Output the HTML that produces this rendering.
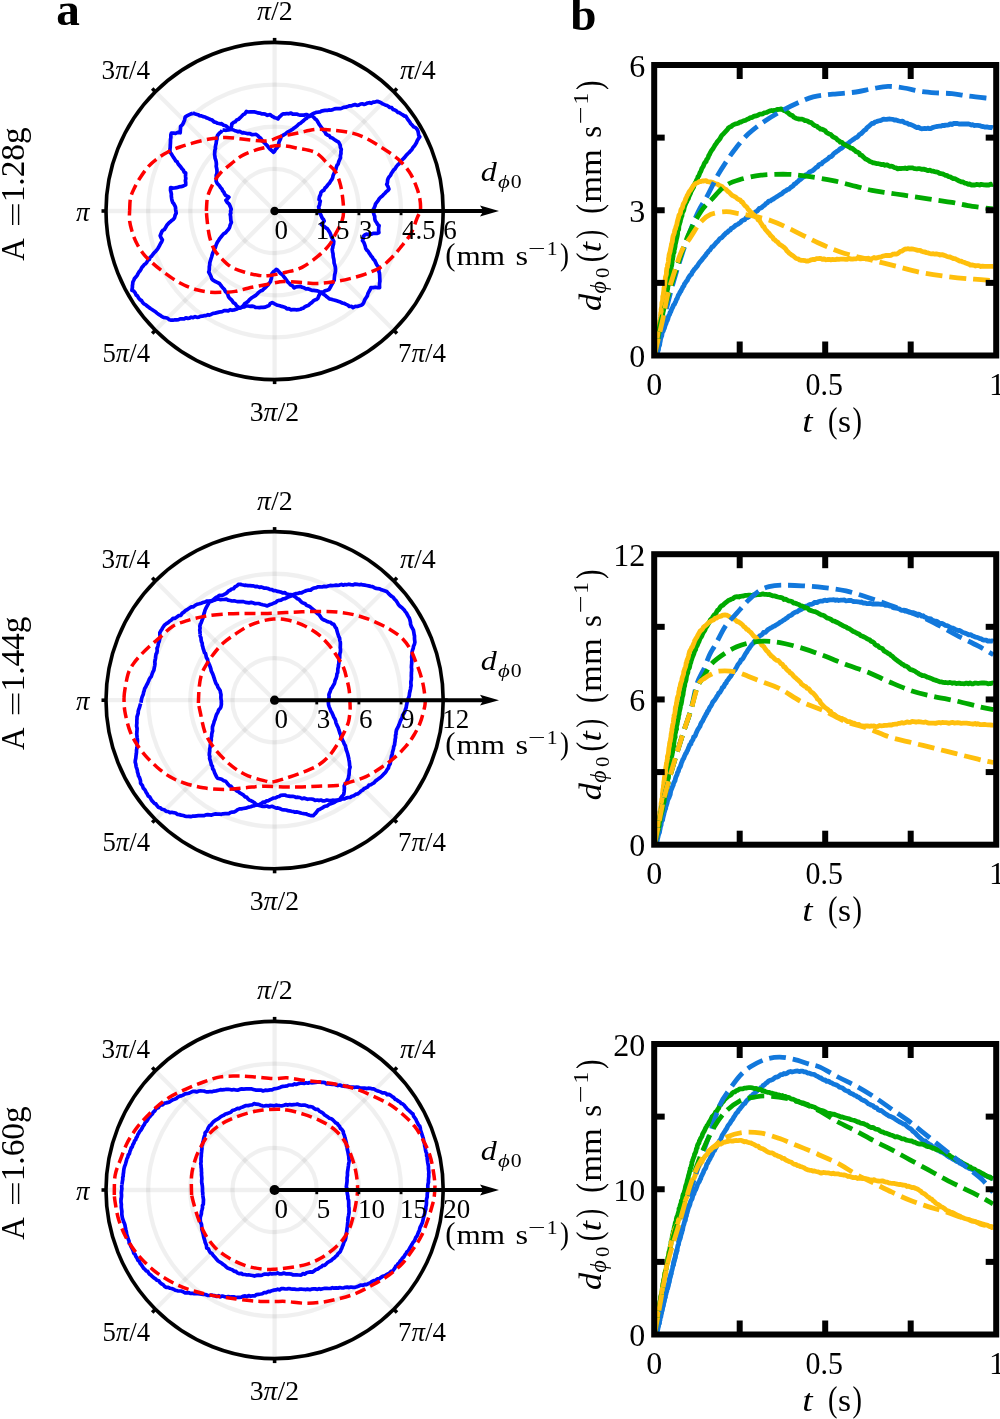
<!DOCTYPE html><html><head><meta charset="utf-8"><style>html,body{margin:0;padding:0;background:#fff}svg{display:block;will-change:transform}</style></head><body><svg width="1000" height="1419" viewBox="0 0 1000 1419">
<rect width="1000" height="1419" fill="#fff"/>
<text transform="translate(56.17,24.80) scale(1.0273,1.0000)" font-family="Liberation Serif" font-size="46" font-weight="bold">a</text>
<text transform="translate(570.20,29.80) scale(1.0250,1.0000)" font-family="Liberation Serif" font-size="46" font-weight="bold">b</text>
<circle cx="274.6" cy="211" r="42.15" fill="none" stroke="rgba(0,0,0,0.06)" stroke-width="4.3"/>
<circle cx="274.6" cy="211" r="84.30" fill="none" stroke="rgba(0,0,0,0.06)" stroke-width="4.3"/>
<circle cx="274.6" cy="211" r="126.45" fill="none" stroke="rgba(0,0,0,0.06)" stroke-width="4.3"/>
<circle cx="274.6" cy="211" r="168.60" fill="none" stroke="rgba(0,0,0,0.06)" stroke-width="4.3"/>
<line x1="274.6" y1="211" x2="443.20" y2="211.00" stroke="rgba(0,0,0,0.06)" stroke-width="4.3"/>
<line x1="274.6" y1="211" x2="393.82" y2="91.78" stroke="rgba(0,0,0,0.06)" stroke-width="4.3"/>
<line x1="274.6" y1="211" x2="274.60" y2="42.40" stroke="rgba(0,0,0,0.06)" stroke-width="4.3"/>
<line x1="274.6" y1="211" x2="155.38" y2="91.78" stroke="rgba(0,0,0,0.06)" stroke-width="4.3"/>
<line x1="274.6" y1="211" x2="106.00" y2="211.00" stroke="rgba(0,0,0,0.06)" stroke-width="4.3"/>
<line x1="274.6" y1="211" x2="155.38" y2="330.22" stroke="rgba(0,0,0,0.06)" stroke-width="4.3"/>
<line x1="274.6" y1="211" x2="274.60" y2="379.60" stroke="rgba(0,0,0,0.06)" stroke-width="4.3"/>
<line x1="274.6" y1="211" x2="393.82" y2="330.22" stroke="rgba(0,0,0,0.06)" stroke-width="4.3"/>
<path d="M192.8,112.9 L194.7,113.7 L196.2,114.2 L198.0,114.7 L199.5,115.6 L201.4,115.9 L203.1,116.7 L205.1,117.0 L206.9,118.1 L208.5,118.6 L210.5,119.5 L212.2,120.1 L214.0,121.9 L216.3,122.5 L217.6,123.3 L220.0,123.8 L221.6,123.7 L223.6,125.2 L225.6,125.7 L227.1,126.8 L228.9,128.4 L230.6,129.1 L232.5,129.6 L234.4,130.4 L236.0,130.9 L238.1,131.8 L239.7,131.4 L242.3,132.8 L243.8,132.7 L246.0,133.2 L247.9,133.7 L250.1,133.7 L252.3,134.7 L254.2,134.5 L255.9,134.4 L257.7,135.5 L259.0,137.0 L260.7,138.3 L262.0,140.3 L263.2,141.7 L264.7,143.1 L265.7,144.2 L267.5,145.9 L268.6,147.6 L270.3,149.4 L271.6,150.5 L273.4,152.3 L274.6,151.3 L275.5,149.4 L276.8,148.1 L278.3,146.1 L278.5,144.7 L279.0,142.2 L279.9,140.1 L280.7,138.5 L281.1,136.5 L282.9,135.4 L284.2,134.6 L285.8,133.7 L287.4,132.2 L289.4,131.3 L290.7,130.4 L292.5,129.4 L294.2,127.9 L295.6,126.9 L297.2,125.8 L298.9,124.0 L300.3,123.4 L301.7,122.2 L303.7,120.5 L305.0,119.2 L306.6,118.3 L307.8,116.7 L309.3,116.6 L310.9,115.1 L312.8,113.7 L314.5,113.1 L316.1,112.3 L317.9,112.2 L320.0,112.0 L321.4,111.1 L323.6,110.6 L325.1,110.4 L327.3,110.4 L328.9,109.9 L330.6,110.2 L332.8,109.6 L334.4,108.9 L336.2,108.6 L338.1,108.7 L340.1,108.7 L341.9,108.2 L343.6,107.4 L345.8,107.2 L347.6,106.6 L349.6,105.8 L351.4,105.9 L353.4,105.0 L355.0,104.6 L356.9,105.3 L358.6,105.1 L360.6,104.0 L362.3,103.8 L364.1,104.4 L365.8,103.9 L367.6,103.0 L369.9,102.7 L371.3,103.3 L373.2,102.1 L374.9,102.1 L376.7,101.4 L378.6,101.7 L380.6,102.5 L382.7,103.9 L385.1,104.9 L387.0,105.5 L388.6,106.5 L389.8,107.5 L391.8,107.7 L393.0,109.4 L394.9,110.1 L396.2,110.7 L397.9,112.5 L399.4,112.7 L401.3,114.0 L402.8,114.9 L404.6,116.1 L405.8,116.1 L407.4,118.9 L408.3,120.1 L409.7,121.9 L410.6,123.5 L412.3,125.3 L413.8,126.9 L415.9,127.9 L417.2,129.5 L418.0,131.3 L418.4,133.2 L418.7,135.3 L419.8,136.8 L418.4,138.7 L417.3,140.5 L416.4,142.7 L415.5,144.2 L414.5,145.9 L413.1,147.3 L411.8,149.7 L410.6,150.8 L409.0,152.7 L407.8,153.7 L406.4,155.1 L405.3,156.5 L403.9,158.2 L402.7,159.3 L401.5,160.6 L399.9,162.4 L398.9,164.0 L397.6,165.0 L396.0,167.2 L394.9,169.0 L393.6,170.0 L392.6,171.7 L391.4,173.3 L390.6,175.3 L389.3,176.7 L388.5,177.8 L387.6,180.0 L387.4,182.9 L386.7,184.4 L388.1,186.8 L388.9,189.1 L387.8,190.6 L386.2,191.8 L384.7,193.5 L383.4,194.7 L382.0,196.2 L380.9,197.0 L379.4,198.5 L378.3,200.3 L377.1,201.9 L375.6,203.8 L375.0,206.0 L374.2,207.9 L373.0,209.9 L373.4,212.6 L374.1,214.9 L374.7,216.3 L374.8,219.0 L375.3,220.8 L376.7,222.8 L377.8,224.7 L379.1,225.6 L378.7,227.7 L378.6,230.5 L378.9,232.7 L376.8,233.4 L375.3,233.4 L373.2,233.3 L371.5,234.2 L370.0,233.5 L368.2,234.7 L366.4,234.1 L364.7,234.9 L363.7,236.0 L363.3,238.4 L362.5,240.7 L363.7,242.2 L364.4,243.8 L365.3,246.5 L365.7,248.5 L367.0,250.3 L368.0,251.1 L369.0,252.8 L370.0,254.2 L371.3,256.3 L372.4,257.4 L373.2,259.0 L374.8,260.6 L375.7,262.7 L376.7,264.7 L377.6,266.0 L378.8,267.3 L378.9,269.0 L378.9,271.7 L379.4,272.8 L379.6,274.7 L379.7,277.1 L379.8,279.0 L379.9,281.4 L379.6,282.8 L379.5,284.9 L379.6,287.7 L377.5,287.6 L375.2,287.2 L373.2,287.6 L370.9,287.5 L370.2,289.5 L369.1,291.3 L368.0,293.3 L367.3,295.9 L366.1,297.7 L364.9,299.5 L363.9,302.2 L362.7,304.2 L361.2,305.3 L358.7,306.0 L357.2,306.5 L355.3,306.4 L353.0,307.6 L351.6,306.3 L349.3,306.5 L347.9,305.1 L346.1,304.4 L344.2,303.4 L342.3,303.0 L340.5,302.1 L338.7,301.5 L336.7,300.8 L334.9,300.2 L333.0,299.8 L331.3,299.3 L329.4,298.9 L327.6,297.4 L326.1,296.2 L324.6,294.9 L322.5,293.4 L321.5,292.2 L319.5,291.7 L317.5,290.9 L315.4,290.6 L313.7,290.4 L311.9,290.4 L309.9,289.5 L307.8,288.7 L306.1,289.0 L304.1,287.8 L302.1,287.3 L300.4,286.4 L298.2,286.6 L296.1,286.8 L294.1,287.9 L292.6,285.9 L290.5,284.9 L289.2,283.2 L287.7,282.1 L286.4,280.1 L285.0,278.1 L283.8,276.6 L283.0,275.5 L281.3,273.9 L280.2,273.2 L278.9,271.6 L277.6,270.1 L276.2,269.3 L274.9,270.9 L273.5,271.7 L271.9,273.6 L271.8,275.6 L271.5,278.1 L270.9,279.8 L270.5,281.6 L268.9,283.6 L267.8,285.2 L266.7,286.2 L265.2,287.8 L263.9,288.8 L262.3,290.5 L261.0,290.8 L258.9,292.2 L257.7,293.4 L256.1,295.1 L254.5,296.1 L252.6,297.3 L251.3,298.1 L249.3,299.9 L248.3,301.2 L246.2,302.8 L244.7,303.7 L243.4,305.6 L241.8,307.2 L239.7,307.9 L238.0,308.3 L236.2,309.3 L234.1,309.9 L232.1,310.3 L230.1,309.7 L228.2,310.9 L226.3,310.6 L224.1,310.7 L222.2,311.6 L220.5,311.8 L219.0,312.1 L217.0,312.6 L215.0,313.1 L213.2,313.3 L211.5,314.2 L209.4,315.1 L208.0,314.7 L205.9,315.6 L204.1,315.7 L202.4,316.2 L200.3,316.3 L198.8,317.1 L197.0,317.3 L195.1,316.7 L193.1,317.7 L191.2,317.2 L189.5,318.2 L187.9,318.4 L185.8,317.9 L184.1,319.0 L182.2,318.9 L180.1,318.9 L178.6,319.6 L176.6,319.9 L174.9,319.8 L172.9,320.2 L171.0,320.1 L169.5,319.8 L167.7,318.3 L165.8,317.8 L163.5,317.4 L162.1,316.7 L159.9,315.1 L158.6,314.4 L157.0,313.1 L155.5,311.8 L153.8,310.7 L152.0,309.5 L150.4,308.5 L148.8,307.2 L146.9,305.9 L145.5,304.6 L143.9,303.9 L142.5,302.3 L141.6,300.7 L140.3,299.9 L138.6,298.0 L137.4,295.9 L136.1,295.1 L135.0,292.6 L133.6,290.9 L131.9,290.3 L132.4,287.4 L132.4,285.7 L132.7,284.2 L132.8,282.3 L134.0,279.8 L134.6,278.3 L135.8,277.2 L137.0,275.7 L137.9,273.9 L138.9,272.1 L139.9,271.0 L141.0,269.2 L142.1,267.1 L143.1,266.2 L144.3,264.5 L145.5,263.8 L146.7,262.5 L147.7,260.5 L149.3,259.5 L150.1,257.4 L151.5,256.3 L152.8,254.5 L154.3,252.6 L155.7,251.3 L157.1,249.6 L158.2,248.0 L159.5,245.7 L160.4,243.7 L161.6,241.9 L162.4,239.8 L161.2,238.1 L160.2,235.7 L161.8,231.7 L163.0,230.1 L164.4,229.5 L165.6,227.5 L166.8,225.3 L168.2,223.7 L169.1,222.7 L170.7,221.5 L171.8,220.4 L173.3,219.5 L174.6,217.6 L175.2,215.0 L176.2,213.3 L175.9,211.3 L175.6,209.2 L175.5,207.2 L174.8,205.6 L173.6,203.3 L172.8,202.6 L172.0,200.3 L171.7,198.8 L171.3,195.9 L171.4,194.1 L170.9,191.9 L170.5,190.3 L170.6,187.5 L172.6,188.1 L174.5,188.0 L176.4,187.7 L178.9,186.9 L180.7,186.7 L183.0,186.1 L185.7,184.9 L185.7,182.5 L185.4,180.6 L185.8,178.5 L185.6,176.9 L185.5,175.1 L185.7,173.0 L184.2,172.2 L183.3,170.0 L181.9,168.7 L181.0,167.3 L179.5,165.5 L178.2,164.0 L177.0,161.7 L175.8,161.0 L174.4,158.6 L173.3,157.1 L172.7,156.1 L171.4,154.0 L170.4,152.5 L169.9,151.3 L170.0,148.6 L170.2,147.6 L170.3,144.8 L170.4,143.8 L170.5,141.4 L170.5,139.8 L170.9,137.2 L170.8,134.9 L171.3,133.2 L173.2,133.0 L175.6,133.4 L177.8,132.4 L180.2,132.8 L180.3,130.9 L180.5,128.2 L180.6,126.4 L182.5,124.7 L183.7,122.1 L184.5,120.2 L184.8,118.8 L185.3,116.8 L187.3,115.7 L189.4,114.7 L191.0,113.9 L192.9,113.4" fill="none" stroke="#0000ff" stroke-width="3.7" stroke-linejoin="round"/>
<path d="M222.5,129.8 L224.5,130.2 L226.2,130.3 L228.6,129.9 L230.6,129.4 L231.2,127.2 L231.6,126.2 L231.8,124.0 L233.9,122.2 L235.2,121.8 L236.7,119.9 L238.5,119.3 L240.2,117.7 L241.4,116.5 L243.1,114.7 L244.9,113.8 L246.4,111.4 L248.3,112.0 L250.4,111.8 L252.2,111.8 L254.3,111.9 L256.0,112.2 L257.7,112.9 L259.6,113.1 L261.5,113.8 L263.7,113.9 L265.2,114.1 L267.4,115.3 L270.2,114.6 L271.7,116.0 L273.4,116.9 L274.9,117.8 L276.9,118.3 L278.0,118.9 L279.3,117.0 L281.2,115.3 L282.9,113.9 L284.9,113.9 L286.9,113.5 L288.6,113.8 L291.0,113.1 L292.4,114.1 L294.7,114.2 L296.6,114.1 L298.5,114.8 L300.3,115.2 L302.2,115.1 L304.0,115.1 L306.4,114.5 L308.5,115.4 L310.9,115.5 L312.3,116.1 L313.7,117.3 L315.2,119.0 L316.7,120.1 L317.7,121.8 L319.0,124.1 L320.0,125.5 L321.0,126.9 L322.2,128.5 L323.4,130.3 L324.8,131.6 L325.9,133.9 L327.8,135.2 L329.1,135.5 L330.6,137.6 L332.3,138.1 L334.3,139.5 L336.4,140.9 L338.6,142.1 L339.6,144.0 L340.2,145.3 L340.4,147.5 L341.3,149.3 L340.9,151.7 L341.0,153.6 L340.4,155.7 L340.5,157.7 L339.7,159.5 L338.7,161.8 L338.2,163.9 L337.1,165.1 L336.2,167.6 L335.9,169.1 L334.8,171.4 L334.0,173.5 L333.1,175.5 L332.7,177.7 L331.9,179.3 L330.6,181.1 L329.5,183.1 L328.2,184.3 L327.4,185.5 L325.9,187.4 L325.1,187.9 L323.8,190.3 L322.3,191.0 L321.0,192.3 L320.5,194.7 L319.5,196.7 L319.0,199.5 L320.3,201.1 L319.7,203.6 L319.6,204.8 L318.6,206.8 L319.2,209.4 L319.6,210.9 L319.3,212.5 L320.7,214.5 L321.3,216.0 L322.3,218.3 L323.4,219.4 L324.2,221.0 L322.7,223.1 L321.4,224.4 L322.8,225.7 L324.2,226.4 L326.2,228.1 L327.5,228.9 L328.4,230.4 L329.8,232.5 L330.6,234.4 L331.4,236.7 L332.2,238.4 L333.8,241.3 L333.5,244.2 L333.0,245.7 L332.7,247.8 L332.2,249.3 L332.6,252.2 L333.0,253.5 L333.1,255.6 L333.3,257.4 L333.7,258.7 L334.0,260.8 L334.1,262.9 L334.6,264.6 L335.3,267.1 L335.5,269.2 L335.5,270.7 L335.1,273.2 L334.7,274.5 L334.5,276.3 L334.3,278.6 L334.2,280.1 L332.9,282.4 L332.2,283.8 L331.1,285.7 L330.2,287.6 L329.0,289.5 L327.0,290.2 L325.1,290.8 L323.4,291.9 L321.1,292.6 L320.1,293.5 L319.0,295.5 L317.9,298.3 L316.4,299.5 L314.8,300.0 L313.1,301.1 L311.7,302.7 L310.2,303.6 L308.6,305.2 L306.6,306.0 L305.0,306.7 L303.4,308.1 L301.8,308.5 L300.3,309.3 L298.5,309.7 L296.5,309.8 L294.4,309.5 L292.7,309.6 L290.8,309.8 L288.9,308.6 L286.9,308.8 L285.4,307.5 L283.1,306.8 L281.7,306.4 L279.9,305.8 L277.5,305.3 L275.6,304.4 L274.2,303.7 L272.2,302.5 L270.2,303.6 L269.0,305.6 L267.2,306.3 L265.3,307.1 L263.1,307.4 L261.2,307.3 L259.3,307.6 L257.5,307.5 L255.4,307.3 L254.0,306.5 L252.0,306.1 L249.7,306.3 L247.9,306.0 L245.8,306.0 L243.9,307.0 L241.9,307.2 L239.8,308.1 L238.2,306.9 L236.5,305.6 L235.1,303.7 L233.3,302.7 L232.1,300.6 L230.4,298.9 L229.4,298.1 L228.3,296.2 L227.7,294.3 L226.7,292.5 L225.5,291.7 L224.5,289.6 L223.0,288.0 L221.6,286.4 L220.7,285.1 L219.4,283.5 L217.2,282.4 L214.8,281.3 L212.7,279.9 L211.7,278.7 L211.1,276.7 L209.8,274.0 L208.7,272.0 L209.2,270.7 L209.3,268.4 L209.3,266.7 L209.7,264.8 L209.8,262.7 L210.4,260.8 L210.9,259.1 L211.5,257.2 L212.0,255.4 L212.9,252.7 L213.7,250.9 L214.2,248.9 L215.2,247.9 L215.9,245.6 L216.8,243.3 L217.7,241.6 L218.5,240.6 L220.1,238.1 L221.2,236.8 L222.5,235.2 L223.8,233.6 L225.2,233.0 L226.2,231.9 L227.7,230.1 L228.6,229.2 L229.6,227.3 L230.2,225.1 L231.4,222.3 L230.9,220.7 L230.7,218.6 L230.6,216.5 L230.2,214.4 L230.8,213.1 L230.6,211.1 L231.2,209.1 L230.3,206.6 L229.0,203.9 L227.3,202.5 L225.9,200.2 L227.1,199.4 L228.9,197.2 L225.6,195.3 L224.4,193.7 L223.9,192.2 L222.6,190.8 L221.9,188.9 L220.5,187.4 L219.6,186.0 L218.2,184.4 L217.1,183.2 L216.1,180.9 L216.3,179.0 L216.3,177.5 L216.2,175.2 L216.8,173.9 L217.0,172.3 L216.9,169.7 L216.6,168.1 L216.2,166.3 L216.4,164.2 L216.2,162.0 L215.8,160.0 L215.1,158.3 L214.9,156.2 L214.6,154.5 L214.7,152.8 L214.9,150.3 L215.5,148.4 L215.3,147.1 L215.8,144.7 L216.2,143.2 L216.4,141.0 L217.0,139.0 L217.0,136.9 L217.5,135.5 L219.2,133.3 L220.9,132.1 L222.2,130.4" fill="none" stroke="#0000ff" stroke-width="3.7" stroke-linejoin="round"/>
<path d="M129.6,211.0 C129.8,208.8 129.7,201.8 130.5,198.0 C131.3,194.2 132.8,191.3 134.4,188.0 C136.0,184.7 137.7,181.5 140.0,178.0 C142.3,174.5 145.2,170.2 148.0,167.0 C150.8,163.8 153.6,161.4 156.8,159.0 C160.0,156.6 163.1,154.5 167.0,152.5 C170.9,150.5 176.2,148.4 180.0,147.0 C183.8,145.6 185.3,145.1 190.0,143.8 C194.7,142.5 202.0,140.4 208.0,139.3 C214.0,138.2 220.0,137.5 226.0,137.5 C232.0,137.5 238.0,138.7 244.0,139.3 C250.0,139.9 257.5,140.9 262.0,141.1 C266.5,141.2 268.0,140.9 271.0,140.2 C274.0,139.4 275.5,137.8 280.0,136.6 C284.5,135.4 292.0,134.2 298.0,133.0 C304.0,131.8 310.0,129.8 316.0,129.4 C322.0,129.0 328.0,129.7 334.0,130.3 C340.0,130.9 346.6,131.7 352.0,133.0 C357.4,134.3 361.4,135.9 366.4,138.4 C371.4,140.9 376.7,144.4 382.0,147.8 C387.3,151.2 393.5,155.0 398.0,159.0 C402.5,163.0 406.3,167.5 409.2,171.8 C412.1,176.1 413.9,180.3 415.6,184.6 C417.3,188.9 418.8,193.1 419.6,197.4 C420.4,201.7 420.8,206.8 420.4,210.2 C420.0,213.6 418.8,213.9 417.2,217.8 C415.6,221.7 413.5,229.0 410.8,233.8 C408.1,238.6 404.4,242.6 401.2,246.6 C398.0,250.6 395.1,254.3 391.6,257.8 C388.1,261.3 384.7,264.7 380.4,267.4 C376.1,270.1 371.1,271.9 366.0,273.8 C360.9,275.7 355.3,277.3 350.0,278.6 C344.7,279.9 339.3,281.0 334.0,281.8 C328.7,282.6 323.3,283.3 318.0,283.4 C312.7,283.5 307.3,282.8 302.0,282.5 C296.7,282.2 289.7,281.6 286.0,281.5 C282.3,281.4 283.7,281.2 280.0,281.8 C276.3,282.4 269.3,283.9 264.0,285.0 C258.7,286.1 252.8,287.1 248.0,288.2 C243.2,289.3 239.2,290.7 235.2,291.4 C231.2,292.1 228.3,292.1 224.0,292.2 C219.7,292.3 214.1,292.6 209.6,292.2 C205.1,291.8 201.1,291.0 196.8,289.8 C192.5,288.6 188.0,286.9 184.0,285.0 C180.0,283.1 176.5,281.0 172.8,278.6 C169.1,276.2 165.1,273.3 161.6,270.6 C158.1,267.9 154.9,265.3 152.0,262.6 C149.1,259.9 146.4,257.5 144.0,254.6 C141.6,251.7 139.5,248.5 137.6,245.0 C135.7,241.5 134.1,237.8 132.8,233.8 C131.5,229.8 130.1,224.8 129.6,221.0 C129.1,217.2 129.6,212.7 129.6,211.0" fill="none" stroke="#ff0000" stroke-width="3.5" stroke-dasharray="11 5.4"/>
<path d="M206.4,211.0 C206.5,209.0 206.7,202.3 207.2,199.0 C207.7,195.7 208.4,193.9 209.6,191.0 C210.8,188.1 212.7,184.3 214.4,181.4 C216.1,178.5 217.2,176.5 220.0,173.5 C222.8,170.5 227.4,166.8 231.4,163.6 C235.4,160.4 238.9,157.1 244.0,154.6 C249.1,152.1 256.0,149.8 262.0,148.3 C268.0,146.8 274.0,145.6 280.0,145.6 C286.0,145.6 292.0,147.1 298.0,148.3 C304.0,149.5 311.1,150.2 316.0,152.8 C320.9,155.4 324.3,160.6 327.6,163.8 C330.9,167.0 333.5,168.3 335.6,171.8 C337.7,175.3 339.2,180.1 340.4,184.6 C341.6,189.1 342.3,194.5 342.8,199.0 C343.3,203.5 343.7,208.1 343.6,211.8 C343.5,215.5 343.3,217.3 342.0,221.0 C340.7,224.7 337.7,229.8 335.6,233.8 C333.5,237.8 332.1,241.3 329.2,245.0 C326.3,248.7 322.5,252.5 318.0,256.2 C313.5,259.9 307.3,264.7 302.0,267.4 C296.7,270.1 291.3,270.9 286.0,272.2 C280.7,273.5 274.5,274.9 270.0,275.4 C265.5,275.9 263.4,275.9 259.2,275.4 C255.0,274.9 249.3,273.5 244.8,272.2 C240.3,270.9 235.7,269.5 232.0,267.4 C228.3,265.3 225.3,262.3 222.4,259.4 C219.5,256.5 216.5,253.5 214.4,249.8 C212.3,246.1 210.8,241.8 209.6,237.0 C208.4,232.2 207.7,225.3 207.2,221.0 C206.7,216.7 206.5,212.7 206.4,211.0" fill="none" stroke="#ff0000" stroke-width="3.5" stroke-dasharray="11 5.4"/>
<circle cx="274.6" cy="211" r="168.6" fill="none" stroke="#000" stroke-width="3.6"/>
<line x1="443.20" y1="211.00" x2="447.70" y2="211.00" stroke="#000" stroke-width="3.6"/>
<line x1="393.82" y1="91.78" x2="397.00" y2="88.60" stroke="#000" stroke-width="3.6"/>
<line x1="274.60" y1="42.40" x2="274.60" y2="37.90" stroke="#000" stroke-width="3.6"/>
<line x1="155.38" y1="91.78" x2="152.20" y2="88.60" stroke="#000" stroke-width="3.6"/>
<line x1="106.00" y1="211.00" x2="101.50" y2="211.00" stroke="#000" stroke-width="3.6"/>
<line x1="155.38" y1="330.22" x2="152.20" y2="333.40" stroke="#000" stroke-width="3.6"/>
<line x1="274.60" y1="379.60" x2="274.60" y2="384.10" stroke="#000" stroke-width="3.6"/>
<line x1="393.82" y1="330.22" x2="397.00" y2="333.40" stroke="#000" stroke-width="3.6"/>
<line x1="274.6" y1="211" x2="485" y2="211" stroke="#000" stroke-width="4"/>
<path d="M499,211 L480,205.6 L483.5,211 L480,216.4 Z" fill="#000"/>
<line x1="316.75" y1="211" x2="316.75" y2="215.2" stroke="#000" stroke-width="2.8"/>
<line x1="358.90" y1="211" x2="358.90" y2="215.2" stroke="#000" stroke-width="2.8"/>
<line x1="401.05" y1="211" x2="401.05" y2="215.2" stroke="#000" stroke-width="2.8"/>
<circle cx="274.6" cy="211" r="4.3" fill="#000"/>
<text transform="translate(274.60,239.00)" font-family="Liberation Serif" font-size="27">0</text>
<text transform="translate(315.75,239.00)" font-family="Liberation Serif" font-size="27">1.5</text>
<text transform="translate(358.90,239.00)" font-family="Liberation Serif" font-size="27">3</text>
<text transform="translate(402.05,239.00)" font-family="Liberation Serif" font-size="27">4.5</text>
<text transform="translate(443.20,239.00)" font-family="Liberation Serif" font-size="27">6</text>
<text transform="translate(257.00,20.30) scale(1.0303,1.0000)" font-family="Liberation Serif" font-size="27"><tspan font-style="italic">π</tspan>/2</text>
<text transform="translate(249.77,420.80) scale(1.0261,1.0000)" font-family="Liberation Serif" font-size="27">3<tspan font-style="italic">π</tspan>/2</text>
<text transform="translate(101.59,78.80) scale(1.0085,1.0000)" font-family="Liberation Serif" font-size="27">3<tspan font-style="italic">π</tspan>/4</text>
<text transform="translate(400.00,78.80) scale(1.0353,1.0000)" font-family="Liberation Serif" font-size="27"><tspan font-style="italic">π</tspan>/4</text>
<text transform="translate(102.51,362.00) scale(0.9894,1.0000)" font-family="Liberation Serif" font-size="27">5<tspan font-style="italic">π</tspan>/4</text>
<text transform="translate(398.10,361.80) scale(0.9979,1.0000)" font-family="Liberation Serif" font-size="27">7<tspan font-style="italic">π</tspan>/4</text>
<text transform="translate(76.00,220.60)" font-family="Liberation Serif" font-size="27" font-style="italic">π</text>
<text transform="translate(480.82,181.00) scale(1.1846,1.0000)" font-family="Liberation Serif" font-size="27" font-style="italic">d</text>
<text transform="translate(498.00,187.80) scale(1.2000,1.0000)" font-family="Liberation Serif" font-size="19" font-style="italic">ϕ</text>
<text transform="translate(510.70,187.80) scale(1.1444,1.0000)" font-family="Liberation Serif" font-size="19">0</text>
<text transform="translate(445.16,265.10) scale(1.1375,1.2000)" font-family="Liberation Serif" font-size="27">(</text>
<text transform="translate(456.50,265.10) scale(1.1548,1.0000)" font-family="Liberation Serif" font-size="27">mm</text>
<text transform="translate(515.50,265.10) scale(1.2000,1.0000)" font-family="Liberation Serif" font-size="27">s</text>
<text transform="translate(527.97,254.60) scale(1.6333,1.0000)" font-family="Liberation Serif" font-size="19">−</text>
<text transform="translate(546.71,254.60) scale(1.1429,1.0000)" font-family="Liberation Serif" font-size="19">1</text>
<text transform="translate(560.00,265.10) scale(1.0000,1.2000)" font-family="Liberation Serif" font-size="27">)</text>
<text transform="translate(23.70,260.70) rotate(-90) scale(0.9458,1.0000)" font-family="Liberation Serif" font-size="33">A</text>
<text transform="translate(25.10,227.26) rotate(-90) scale(1.3563,0.8200)" font-family="Liberation Serif" font-size="33">=</text>
<text transform="translate(23.50,202.33) rotate(-90) scale(1.0099,1.0000)" font-family="Liberation Serif" font-size="33">1.28g</text>
<path d="M654.5,355.0 L655.9,355.1 L657.5,353.0 L657.7,351.6 L658.1,350.6 L658.5,349.6 L658.6,347.8 L659.1,345.9 L659.7,344.9 L659.8,343.1 L660.3,340.9 L660.6,339.0 L660.9,338.0 L661.8,335.7 L661.9,334.5 L662.5,332.0 L663.3,331.0 L663.6,329.8 L664.4,328.2 L664.9,326.2 L665.2,325.3 L666.0,323.6 L666.4,321.9 L667.1,320.7 L667.8,319.1 L668.1,317.8 L668.8,315.6 L669.7,314.4 L670.0,312.6 L670.7,311.8 L671.6,309.4 L672.2,308.2 L672.8,307.1 L673.4,305.2 L674.4,304.3 L675.0,302.8 L675.8,301.3 L676.4,299.4 L677.1,298.6 L677.7,297.0 L678.3,295.3 L679.2,294.1 L680.0,292.2 L681.0,291.1 L681.3,290.0 L682.2,288.7 L682.8,287.1 L684.0,285.7 L684.4,284.2 L685.5,282.6 L686.2,281.5 L687.3,280.4 L688.1,278.4 L689.3,276.6 L690.1,275.2 L691.4,274.4 L692.1,272.5 L693.4,270.8 L694.1,269.6 L695.5,268.3 L696.4,266.9 L697.3,266.1 L698.3,264.3 L699.1,263.2 L699.9,262.1 L701.0,260.9 L701.9,259.9 L702.9,258.4 L704.3,256.9 L705.2,255.6 L706.0,254.9 L706.7,253.3 L707.9,252.4 L708.6,251.0 L709.8,250.3 L710.9,248.5 L711.9,246.9 L713.1,246.5 L714.1,245.3 L715.4,243.8 L716.4,242.4 L717.6,241.6 L718.9,239.9 L720.0,238.5 L721.3,237.8 L722.5,236.8 L723.7,235.4 L724.8,234.4 L726.0,233.0 L727.4,232.3 L728.8,230.7 L730.2,230.1 L731.3,228.4 L733.0,227.6 L734.2,226.7 L735.4,225.5 L736.6,224.9 L738.1,224.2 L739.3,223.2 L740.5,222.5 L741.8,220.8 L743.5,220.0 L744.8,219.6 L746.0,217.9 L747.3,217.7 L749.1,216.5 L750.2,215.8 L751.6,215.3 L753.2,214.1 L754.3,213.4 L755.5,211.8 L756.9,211.1 L758.0,210.1 L759.4,208.3 L760.9,208.0 L762.3,207.0 L763.2,206.0 L764.9,204.9 L765.8,203.7 L767.3,202.9 L768.8,201.1 L770.4,200.9 L771.8,199.7 L773.0,199.2 L774.4,198.2 L775.9,197.3 L777.6,196.2 L779.1,195.3 L780.6,194.4 L782.0,193.6 L783.2,192.3 L784.8,191.2 L786.1,190.6 L787.5,189.5 L789.0,189.1 L790.7,187.4 L792.0,186.6 L793.3,185.7 L794.3,184.2 L795.9,183.3 L797.0,182.1 L798.3,181.3 L799.3,179.9 L800.7,179.4 L802.3,177.8 L803.4,177.1 L804.8,176.4 L805.8,174.9 L807.5,174.4 L808.4,173.3 L809.7,172.0 L811.0,171.4 L812.4,170.8 L813.5,170.0 L814.8,168.7 L816.1,167.5 L817.7,166.8 L818.7,165.0 L820.3,164.2 L821.6,163.9 L822.7,162.3 L824.1,161.4 L825.4,160.5 L826.6,159.7 L828.3,158.6 L829.5,157.0 L831.1,156.6 L832.5,155.4 L833.4,154.0 L835.0,152.7 L836.0,152.1 L837.5,150.9 L838.3,150.6 L839.9,149.0 L841.9,148.0 L843.3,146.7 L844.7,145.6 L846.0,145.3 L847.0,143.8 L848.5,143.4 L849.8,141.9 L851.6,140.6 L852.9,139.6 L854.1,139.0 L855.5,137.8 L856.8,137.4 L858.0,136.4 L859.3,134.7 L860.6,134.0 L861.9,133.0 L863.1,131.6 L864.3,130.3 L865.9,129.5 L866.9,127.8 L868.3,126.7 L869.4,125.9 L870.8,124.5 L871.9,123.5 L873.7,123.3 L875.0,122.0 L876.9,121.5 L878.1,121.0 L879.9,120.7 L881.4,120.2 L883.5,119.1 L884.9,119.4 L886.6,119.4 L888.1,119.1 L889.8,119.0 L891.1,119.2 L892.9,119.3 L894.5,120.1 L896.0,119.9 L897.6,120.6 L899.1,121.0 L901.0,121.4 L902.6,121.2 L904.2,122.5 L905.8,123.0 L907.0,123.2 L909.0,124.3 L910.3,124.3 L912.0,125.1 L913.7,125.9 L915.4,126.8 L916.9,127.6 L918.5,127.2 L919.8,128.2 L921.5,128.8 L922.8,128.6 L924.8,128.5 L926.2,128.7 L927.7,128.2 L929.3,128.6 L931.0,128.5 L932.5,127.6 L934.5,127.0 L936.0,126.7 L937.7,126.3 L939.4,126.2 L941.0,126.2 L942.5,125.4 L944.0,125.6 L945.5,125.1 L947.1,125.1 L948.9,124.8 L950.3,123.8 L952.1,124.5 L953.6,123.5 L955.4,123.4 L957.4,123.5 L959.5,124.1 L961.3,123.8 L963.0,124.0 L964.7,124.0 L966.2,124.0 L968.2,123.9 L969.6,124.3 L971.4,125.0 L972.8,124.6 L974.1,125.5 L975.7,125.4 L977.7,125.4 L979.4,125.6 L981.3,126.3 L983.0,126.5 L985.2,127.1 L986.8,126.9 L988.6,127.3 L990.6,127.5 L992.0,127.5 L993.0,128.0" fill="none" stroke="#1278dc" stroke-width="4.8" stroke-linejoin="round"/>
<path d="M654.5,355.0 L654.5,354.0 L654.7,353.4 L655.2,352.0 L655.4,351.0 L655.7,350.1 L655.8,349.0 L656.2,347.1 L656.5,345.9 L656.4,345.1 L657.1,343.2 L657.0,341.1 L657.6,340.1 L658.0,338.8 L658.2,336.9 L658.4,334.8 L658.9,333.0 L659.3,331.8 L659.6,330.0 L660.1,327.5 L660.1,325.7 L660.7,324.2 L660.9,322.4 L661.3,320.2 L661.6,318.7 L662.0,316.3 L662.7,314.6 L663.0,312.4 L663.3,311.2 L663.7,309.2 L663.8,307.4 L664.5,305.4 L664.6,304.0 L664.9,302.3 L665.3,300.1 L665.6,298.4 L665.7,297.2 L666.1,296.0 L666.3,294.0 L666.9,292.5 L667.2,290.8 L667.7,288.7 L667.8,286.8 L668.2,285.6 L668.6,283.4 L668.7,281.8 L668.9,280.8 L669.1,278.3 L669.5,276.7 L670.0,275.5 L670.0,274.0 L670.3,271.5 L670.5,270.4 L671.1,268.9 L671.1,266.9 L671.7,265.6 L671.9,263.5 L672.2,261.9 L672.1,260.7 L672.6,259.3 L672.8,257.3 L673.1,256.1 L673.1,254.4 L673.5,253.4 L674.1,252.2 L674.1,250.1 L674.5,249.2 L674.9,247.2 L675.1,246.2 L675.2,244.5 L675.6,243.1 L675.9,241.9 L676.4,239.2 L676.8,237.9 L677.2,236.1 L677.6,233.7 L677.6,232.0 L678.1,230.2 L678.7,229.3 L678.8,227.1 L679.0,225.5 L679.5,224.1 L680.0,222.3 L680.3,221.6 L680.5,220.0 L680.9,218.9 L681.4,217.0 L682.0,215.7 L682.1,214.1 L682.4,212.8 L682.8,212.1 L683.8,210.2 L684.2,207.9 L684.8,205.9 L685.4,204.4 L686.2,202.6 L686.9,201.3 L687.4,199.9 L688.4,198.5 L688.9,196.6 L689.6,195.2 L690.3,193.8 L690.6,193.0 L691.2,191.2 L692.0,190.1 L692.6,188.8 L693.6,187.2 L694.1,185.1 L694.8,183.7 L695.6,182.3 L696.2,181.5 L696.5,180.1 L697.4,178.8 L698.0,176.6 L698.7,176.1 L699.5,174.0 L700.1,172.4 L700.8,171.5 L701.4,169.8 L701.9,168.3 L702.8,167.0 L703.5,165.8 L704.2,163.8 L705.1,162.3 L706.1,161.7 L706.6,159.6 L707.6,158.6 L708.2,157.3 L708.7,155.6 L709.5,154.5 L710.2,152.9 L711.5,150.6 L712.4,149.5 L713.4,147.9 L714.4,146.2 L714.9,145.3 L716.2,143.6 L717.0,142.2 L717.9,141.2 L719.1,139.7 L720.2,138.4 L720.8,137.0 L721.9,135.2 L723.3,134.0 L724.4,132.7 L725.6,131.6 L726.5,130.5 L727.6,129.4 L728.4,128.0 L729.9,127.0 L731.3,126.5 L732.8,125.1 L734.3,124.4 L735.5,123.8 L737.1,123.6 L738.2,123.2 L739.7,122.2 L741.2,122.0 L743.0,121.0 L744.6,120.5 L745.6,120.3 L747.3,119.3 L748.9,118.7 L750.3,117.6 L752.0,117.5 L753.6,116.4 L755.0,116.0 L756.6,115.8 L757.9,115.3 L759.6,114.1 L761.2,114.1 L762.6,113.8 L764.3,112.9 L766.5,112.5 L768.2,111.7 L770.0,110.8 L771.6,110.5 L773.1,110.9 L774.6,110.4 L776.0,110.1 L777.0,109.5 L779.6,109.4 L781.4,108.9 L782.6,109.7 L784.3,110.8 L785.6,110.6 L786.9,112.1 L788.2,112.8 L789.4,114.2 L791.0,115.1 L792.4,115.5 L793.8,117.2 L795.3,118.0 L796.7,118.5 L798.4,119.0 L800.0,119.1 L801.8,119.2 L803.2,119.5 L805.0,120.6 L806.3,120.6 L807.9,121.3 L809.4,122.4 L810.9,122.4 L812.2,123.5 L813.5,124.7 L815.2,125.8 L817.0,126.3 L817.9,127.4 L819.5,128.2 L820.5,129.1 L822.0,129.2 L823.8,130.0 L825.3,130.9 L826.4,132.5 L828.1,133.4 L829.2,134.0 L830.8,134.5 L832.1,136.0 L833.5,137.1 L835.1,137.8 L836.1,138.4 L837.7,140.1 L839.4,141.0 L840.3,142.2 L842.0,142.4 L843.5,144.1 L844.7,144.6 L846.4,145.5 L847.7,146.3 L849.5,147.2 L850.6,148.1 L852.3,148.4 L853.7,149.6 L854.7,150.2 L855.8,151.5 L857.8,152.3 L859.4,153.3 L860.1,155.0 L861.7,155.3 L862.6,156.2 L864.0,157.6 L865.5,159.0 L867.0,159.6 L868.2,160.3 L869.9,161.5 L872.1,162.2 L873.2,162.9 L874.6,162.9 L876.4,163.6 L877.9,163.7 L879.8,164.0 L881.3,164.6 L883.4,164.4 L885.0,165.3 L886.7,164.8 L887.9,165.3 L890.0,166.3 L891.6,166.1 L893.2,166.8 L894.4,167.7 L896.1,167.9 L897.7,168.8 L899.4,168.4 L900.7,168.7 L902.2,168.4 L903.9,168.3 L905.1,168.0 L907.0,168.6 L908.4,167.8 L910.1,167.9 L912.1,167.8 L913.6,168.3 L915.3,168.7 L916.8,168.9 L918.5,168.6 L919.9,168.7 L922.0,169.4 L923.6,169.1 L925.2,169.6 L926.5,170.1 L928.2,170.6 L930.1,170.2 L931.5,171.1 L933.0,171.2 L934.7,171.6 L935.8,171.8 L937.5,172.1 L939.0,173.1 L940.8,173.7 L942.3,173.8 L944.0,174.5 L945.5,175.3 L946.9,175.3 L948.5,176.6 L950.2,176.8 L951.9,177.9 L953.2,178.6 L954.8,178.6 L956.5,179.5 L958.2,180.6 L959.8,181.2 L961.2,181.9 L963.1,182.0 L965.0,183.2 L966.4,183.3 L968.0,184.3 L969.7,183.9 L971.2,185.0 L972.8,184.8 L974.9,185.0 L976.5,184.4 L978.0,184.6 L979.6,185.0 L981.2,184.3 L982.5,184.7 L984.0,184.9 L986.3,185.0 L988.8,185.0 L990.6,184.2 L991.9,184.5 L993.0,184.0" fill="none" stroke="#00aa00" stroke-width="4.8" stroke-linejoin="round"/>
<path d="M654.5,355.0 L654.5,354.5 L655.0,352.9 L654.7,352.0 L655.0,350.4 L655.3,349.2 L655.8,348.0 L656.0,346.5 L656.1,344.4 L656.4,342.9 L656.7,341.2 L657.2,339.1 L657.3,337.1 L657.6,335.7 L658.0,333.6 L658.0,331.7 L658.3,329.6 L659.0,328.3 L659.2,326.7 L659.2,324.3 L659.5,322.7 L659.7,320.8 L660.2,320.0 L660.3,317.7 L660.5,316.2 L660.6,314.7 L660.8,312.7 L661.3,311.4 L661.1,309.4 L661.5,307.6 L661.8,306.4 L661.8,304.5 L661.9,302.8 L662.3,301.6 L662.6,300.2 L662.7,298.3 L662.7,296.5 L663.2,295.2 L663.4,293.6 L663.7,291.2 L663.9,290.2 L664.0,288.0 L664.4,286.7 L664.6,284.9 L664.9,283.3 L664.9,281.8 L665.2,279.7 L665.3,278.9 L665.4,277.3 L666.1,275.2 L666.4,273.9 L666.4,272.1 L666.6,270.0 L666.8,268.3 L667.5,266.9 L667.5,264.7 L668.0,263.9 L668.4,261.3 L668.5,260.0 L668.5,258.6 L668.9,257.4 L669.0,255.4 L669.3,254.2 L669.8,252.5 L670.2,251.2 L670.3,250.2 L670.7,248.3 L671.2,246.2 L671.5,243.8 L671.9,242.8 L672.4,241.2 L672.5,239.4 L672.9,237.0 L673.2,235.6 L673.7,234.7 L674.2,233.3 L674.6,231.1 L674.9,229.7 L675.5,229.0 L675.8,227.2 L676.2,226.0 L676.8,224.7 L677.1,222.6 L677.6,220.5 L677.9,219.5 L678.6,217.2 L678.9,215.5 L679.6,214.5 L680.4,213.2 L680.6,211.5 L681.0,209.6 L681.8,208.5 L682.5,207.3 L682.9,205.3 L683.5,203.6 L684.2,202.6 L685.1,200.9 L685.6,198.9 L686.6,197.0 L687.3,195.2 L688.1,194.2 L688.9,192.2 L689.6,191.1 L690.3,190.4 L691.2,188.9 L691.9,188.0 L693.2,185.8 L694.9,184.1 L696.1,183.3 L697.8,182.8 L699.3,181.5 L700.7,181.6 L702.3,180.8 L704.0,181.0 L705.9,180.6 L707.5,181.6 L709.4,182.0 L711.2,182.0 L712.5,182.3 L714.3,183.4 L715.8,183.9 L717.4,184.1 L719.0,185.2 L721.2,186.2 L722.3,186.7 L723.4,188.0 L724.6,188.8 L726.3,189.7 L727.6,191.3 L728.7,191.9 L730.2,193.4 L731.3,194.6 L732.5,195.6 L734.1,196.3 L735.8,197.2 L737.2,198.6 L738.6,199.4 L740.1,200.0 L741.6,202.0 L742.5,202.2 L743.9,204.3 L744.9,205.7 L745.8,206.3 L747.1,207.5 L748.1,209.5 L749.3,210.3 L750.4,211.8 L751.9,212.9 L752.9,214.1 L754.3,215.2 L755.7,217.1 L757.0,217.5 L758.0,219.8 L759.4,220.5 L760.1,221.6 L761.2,223.6 L762.1,224.7 L762.8,226.2 L764.1,226.8 L764.9,228.8 L765.9,230.1 L767.1,231.3 L768.3,232.9 L769.1,233.4 L770.4,235.3 L771.3,236.2 L772.7,237.3 L773.6,239.3 L774.7,239.7 L776.0,241.1 L777.6,242.0 L778.7,243.5 L780.0,244.7 L781.5,245.5 L783.0,246.6 L784.2,247.5 L785.7,248.9 L786.9,250.9 L788.0,251.8 L789.2,253.3 L790.8,254.3 L791.8,255.1 L793.3,256.0 L794.7,257.2 L796.2,258.5 L798.0,258.8 L799.6,259.9 L801.4,260.3 L803.2,260.3 L804.9,260.6 L806.6,261.2 L808.2,261.0 L809.6,260.5 L811.3,259.8 L813.2,259.4 L814.6,259.6 L816.5,258.7 L818.1,258.6 L819.8,258.5 L821.4,258.7 L822.5,259.4 L824.1,258.9 L825.6,259.8 L827.4,259.5 L829.2,259.3 L831.0,259.9 L832.2,259.4 L834.2,259.6 L835.4,259.7 L837.1,259.1 L839.0,259.3 L840.4,259.2 L842.3,259.1 L843.8,259.1 L845.9,259.4 L847.2,259.4 L849.2,258.5 L850.6,259.0 L852.5,259.1 L853.9,258.8 L855.7,258.9 L857.3,258.3 L858.8,258.4 L860.5,258.9 L862.3,258.7 L863.9,258.4 L865.3,258.8 L867.3,258.3 L868.6,258.2 L869.8,258.9 L872.1,258.5 L874.0,257.5 L875.7,258.2 L877.6,257.6 L879.5,257.2 L880.8,257.1 L882.7,256.1 L883.9,255.9 L885.6,255.5 L887.6,255.4 L889.3,255.5 L891.2,255.3 L892.8,254.2 L894.1,254.0 L896.0,254.1 L897.6,253.6 L899.1,252.5 L900.4,251.4 L901.7,251.2 L903.5,250.0 L904.7,249.2 L906.4,249.0 L908.3,248.7 L909.8,249.1 L911.5,248.9 L913.2,249.2 L914.9,249.5 L917.0,250.1 L918.0,250.4 L920.0,250.3 L921.5,251.3 L923.1,251.8 L924.4,251.9 L926.5,252.6 L928.2,252.9 L929.7,253.5 L931.2,253.8 L933.3,253.7 L934.9,254.2 L936.3,253.9 L938.5,254.3 L940.1,255.0 L942.0,254.6 L943.6,255.1 L945.4,255.7 L946.9,256.5 L948.5,256.8 L950.0,257.0 L951.7,257.8 L953.3,258.5 L954.9,258.6 L956.4,259.4 L958.2,260.2 L959.4,261.0 L961.2,261.1 L962.7,262.0 L964.4,262.4 L965.6,263.0 L967.4,263.6 L969.0,264.1 L970.3,265.1 L972.0,265.0 L974.1,265.3 L975.3,266.0 L977.1,265.7 L978.8,265.6 L980.9,266.5 L982.4,266.1 L984.4,266.4 L986.4,266.3 L988.4,266.3 L989.9,266.4 L991.2,266.4 L992.8,266.3 L993.5,266.2" fill="none" stroke="#ffbf0c" stroke-width="4.8" stroke-linejoin="round"/>
<path d="M654.5,355.0 C656.3,348.0 661.7,326.5 665.2,313.2 C668.7,299.9 671.6,287.9 675.4,275.2 C679.2,262.5 684.2,247.7 688.0,237.1 C691.8,226.5 695.0,218.5 698.2,211.7 C701.4,204.9 703.7,202.6 707.0,196.5 C710.3,190.4 714.5,181.1 717.8,175.2 C721.1,169.2 723.8,165.3 726.8,160.8 C729.8,156.3 732.2,152.7 735.8,148.2 C739.4,143.7 743.6,138.3 748.4,133.8 C753.2,129.3 758.9,125.1 764.6,121.2 C770.3,117.3 777.2,113.4 782.6,110.4 C788.0,107.4 791.9,105.4 797.0,103.2 C802.1,100.9 807.2,98.4 813.2,96.9 C819.2,95.4 825.9,95.0 833.0,94.2 C840.1,93.4 849.5,92.9 856.0,92.0 C862.5,91.1 866.7,89.7 872.0,88.8 C877.3,87.9 882.7,86.5 888.0,86.4 C893.3,86.3 898.7,87.2 904.0,88.0 C909.3,88.8 914.7,90.4 920.0,91.2 C925.3,92.0 930.7,92.4 936.0,92.8 C941.3,93.2 946.7,93.1 952.0,93.6 C957.3,94.1 961.2,95.1 968.0,96.0 C974.8,96.9 988.8,98.3 993.0,98.8" fill="none" stroke="#1278dc" stroke-width="4.8" stroke-linejoin="round" stroke-dasharray="16.8 7"/>
<path d="M654.5,355.0 C655.4,350.0 657.9,334.2 660.0,325.0 C662.1,315.8 664.3,309.2 667.0,300.0 C669.7,290.8 672.5,280.7 676.0,270.0 C679.5,259.3 683.9,245.5 688.0,235.8 C692.1,226.1 696.7,217.9 700.8,211.7 C704.9,205.5 708.4,202.9 712.4,198.6 C716.4,194.3 720.5,189.2 725.0,186.0 C729.5,182.8 733.4,181.5 739.4,179.7 C745.4,177.9 752.9,176.1 761.0,175.2 C769.1,174.3 780.5,174.2 788.0,174.3 C795.5,174.5 798.5,175.1 806.0,176.1 C813.5,177.1 824.7,178.9 833.0,180.6 C841.3,182.3 849.5,184.8 856.0,186.4 C862.5,188.0 866.7,189.3 872.0,190.4 C877.3,191.5 882.7,192.0 888.0,192.8 C893.3,193.6 898.7,194.4 904.0,195.2 C909.3,196.0 914.7,196.8 920.0,197.6 C925.3,198.4 930.7,199.2 936.0,200.0 C941.3,200.8 946.7,201.5 952.0,202.4 C957.3,203.3 961.2,204.5 968.0,205.6 C974.8,206.7 988.8,208.4 993.0,209.0" fill="none" stroke="#00aa00" stroke-width="4.8" stroke-linejoin="round" stroke-dasharray="16.8 7"/>
<path d="M654.5,355.0 C655.9,349.1 660.5,329.7 662.7,319.6 C664.9,309.5 665.7,302.7 667.8,294.2 C669.9,285.7 673.1,276.0 675.4,268.8 C677.7,261.6 679.2,256.3 681.7,251.0 C684.2,245.7 687.4,242.0 690.6,237.1 C693.8,232.3 697.4,225.7 700.8,221.9 C704.2,218.1 706.7,216.0 710.9,214.3 C715.1,212.6 721.5,211.8 726.1,211.7 C730.8,211.6 734.8,213.0 738.8,213.6 C742.8,214.2 745.0,214.3 750.4,215.5 C755.8,216.7 764.3,218.3 771.2,220.7 C778.1,223.1 784.2,226.1 792.0,229.8 C799.8,233.5 809.3,238.9 818.0,242.8 C826.7,246.7 835.3,250.4 844.0,253.2 C852.7,256.0 861.3,257.5 870.0,259.7 C878.7,261.9 887.3,264.0 896.0,266.2 C904.7,268.4 913.3,271.0 922.0,272.7 C930.7,274.4 939.3,275.5 948.0,276.6 C956.7,277.7 966.4,278.6 974.0,279.2 C981.6,279.8 990.2,280.3 993.5,280.5" fill="none" stroke="#ffbf0c" stroke-width="4.8" stroke-linejoin="round" stroke-dasharray="16.8 7"/>
<rect x="654.2" y="65" width="342.0" height="290.5" fill="none" stroke="#000" stroke-width="6"/>
<line x1="739.70" y1="65" x2="739.70" y2="79" stroke="#000" stroke-width="6"/>
<line x1="739.70" y1="355.5" x2="739.70" y2="341.5" stroke="#000" stroke-width="6"/>
<line x1="654.2" y1="282.88" x2="664.7" y2="282.88" stroke="#000" stroke-width="6"/>
<line x1="996.2" y1="282.88" x2="985.7" y2="282.88" stroke="#000" stroke-width="6"/>
<line x1="825.20" y1="65" x2="825.20" y2="79" stroke="#000" stroke-width="6"/>
<line x1="825.20" y1="355.5" x2="825.20" y2="341.5" stroke="#000" stroke-width="6"/>
<line x1="654.2" y1="210.25" x2="664.7" y2="210.25" stroke="#000" stroke-width="6"/>
<line x1="996.2" y1="210.25" x2="985.7" y2="210.25" stroke="#000" stroke-width="6"/>
<line x1="910.70" y1="65" x2="910.70" y2="79" stroke="#000" stroke-width="6"/>
<line x1="910.70" y1="355.5" x2="910.70" y2="341.5" stroke="#000" stroke-width="6"/>
<line x1="654.2" y1="137.62" x2="664.7" y2="137.62" stroke="#000" stroke-width="6"/>
<line x1="996.2" y1="137.62" x2="985.7" y2="137.62" stroke="#000" stroke-width="6"/>
<text transform="translate(629.20,367.10)" font-family="Liberation Serif" font-size="32">0</text>
<text transform="translate(629.20,221.85)" font-family="Liberation Serif" font-size="32">3</text>
<text transform="translate(629.20,76.60)" font-family="Liberation Serif" font-size="32">6</text>
<text transform="translate(646.20,395.00)" font-family="Liberation Serif" font-size="32">0</text>
<text transform="translate(805.57,395.00) scale(0.9342,1.0000)" font-family="Liberation Serif" font-size="32">0.5</text>
<text transform="translate(989.00,395.00)" font-family="Liberation Serif" font-size="32">1</text>
<text transform="translate(802.33,432.00) scale(1.1667,1.0000)" font-family="Liberation Serif" font-size="32" font-style="italic">t</text>
<text transform="translate(828.11,432.00) scale(0.8889,1.1500)" font-family="Liberation Serif" font-size="32">(</text>
<text transform="translate(837.95,432.00) scale(1.0455,1.0000)" font-family="Liberation Serif" font-size="32">s</text>
<text transform="translate(852.61,432.00) scale(0.8889,1.1500)" font-family="Liberation Serif" font-size="32">)</text>
<text transform="translate(600.70,311.07) rotate(-90) scale(1.0667,1.0000)" font-family="Liberation Serif" font-size="32" font-style="italic">d</text>
<text transform="translate(605.50,293.50) rotate(-90) scale(1.0818,1.0800)" font-family="Liberation Serif" font-size="22" font-style="italic">ϕ</text>
<text transform="translate(608.80,277.90) rotate(-90) scale(1.0667,1.0000)" font-family="Liberation Serif" font-size="19.5">0</text>
<text transform="translate(600.70,262.31) rotate(-90) scale(0.9111,1.1500)" font-family="Liberation Serif" font-size="32">(</text>
<text transform="translate(600.70,252.58) rotate(-90) scale(1.1778,1.0000)" font-family="Liberation Serif" font-size="32" font-style="italic">t</text>
<text transform="translate(600.70,238.41) rotate(-90) scale(0.8111,1.1500)" font-family="Liberation Serif" font-size="32">)</text>
<text transform="translate(600.70,213.81) rotate(-90) scale(0.9111,1.1500)" font-family="Liberation Serif" font-size="32">(</text>
<text transform="translate(600.70,202.80) rotate(-90) scale(1.0800,1.0000)" font-family="Liberation Serif" font-size="32">mm</text>
<text transform="translate(600.70,137.75) rotate(-90) scale(0.9545,1.0000)" font-family="Liberation Serif" font-size="32">s</text>
<text transform="translate(588.00,124.13) rotate(-90) scale(1.4273,1.0000)" font-family="Liberation Serif" font-size="22">−</text>
<text transform="translate(588.00,104.62) rotate(-90) scale(1.0625,1.0000)" font-family="Liberation Serif" font-size="22">1</text>
<text transform="translate(600.70,89.89) rotate(-90) scale(0.8889,1.1500)" font-family="Liberation Serif" font-size="32">)</text>
<circle cx="274.6" cy="700.2" r="42.15" fill="none" stroke="rgba(0,0,0,0.06)" stroke-width="4.3"/>
<circle cx="274.6" cy="700.2" r="84.30" fill="none" stroke="rgba(0,0,0,0.06)" stroke-width="4.3"/>
<circle cx="274.6" cy="700.2" r="126.45" fill="none" stroke="rgba(0,0,0,0.06)" stroke-width="4.3"/>
<circle cx="274.6" cy="700.2" r="168.60" fill="none" stroke="rgba(0,0,0,0.06)" stroke-width="4.3"/>
<line x1="274.6" y1="700.2" x2="443.20" y2="700.20" stroke="rgba(0,0,0,0.06)" stroke-width="4.3"/>
<line x1="274.6" y1="700.2" x2="393.82" y2="580.98" stroke="rgba(0,0,0,0.06)" stroke-width="4.3"/>
<line x1="274.6" y1="700.2" x2="274.60" y2="531.60" stroke="rgba(0,0,0,0.06)" stroke-width="4.3"/>
<line x1="274.6" y1="700.2" x2="155.38" y2="580.98" stroke="rgba(0,0,0,0.06)" stroke-width="4.3"/>
<line x1="274.6" y1="700.2" x2="106.00" y2="700.20" stroke="rgba(0,0,0,0.06)" stroke-width="4.3"/>
<line x1="274.6" y1="700.2" x2="155.38" y2="819.42" stroke="rgba(0,0,0,0.06)" stroke-width="4.3"/>
<line x1="274.6" y1="700.2" x2="274.60" y2="868.80" stroke="rgba(0,0,0,0.06)" stroke-width="4.3"/>
<line x1="274.6" y1="700.2" x2="393.82" y2="819.42" stroke="rgba(0,0,0,0.06)" stroke-width="4.3"/>
<path d="M141.0,702.8 L141.2,700.9 L141.6,698.8 L142.2,696.7 L143.3,694.2 L143.6,692.2 L144.2,690.7 L144.7,688.5 L145.7,687.0 L146.6,685.0 L147.5,683.5 L148.5,681.3 L149.3,679.2 L150.1,677.9 L151.3,676.5 L152.1,674.0 L152.7,672.3 L153.8,670.4 L154.3,667.6 L154.7,665.8 L155.0,663.7 L154.8,661.7 L155.2,660.0 L155.5,658.5 L155.7,656.0 L156.1,653.9 L156.8,652.9 L157.2,650.7 L157.0,648.3 L157.5,647.5 L158.0,645.6 L158.5,642.7 L159.2,641.5 L159.6,639.4 L160.1,637.0 L159.9,634.9 L159.8,632.7 L161.0,630.6 L162.1,628.9 L162.8,627.5 L164.0,625.9 L164.6,624.9 L166.3,623.7 L168.1,622.6 L169.5,621.3 L171.2,620.2 L173.0,618.4 L175.1,618.3 L176.9,617.0 L178.9,615.5 L180.9,615.3 L182.3,613.1 L183.9,612.1 L185.7,610.4 L187.0,609.8 L189.2,608.3 L191.4,606.9 L193.3,606.8 L195.1,605.3 L197.4,604.2 L199.3,603.8 L201.2,603.2 L203.2,602.4 L205.1,602.0 L207.2,601.0 L209.0,601.1 L211.4,600.7 L213.2,600.6 L215.2,599.9 L216.9,599.2 L218.4,599.0 L220.6,599.7 L222.4,599.5 L224.2,599.5 L226.3,599.2 L228.1,600.2 L230.1,600.5 L232.0,601.0 L234.0,600.8 L236.0,601.3 L237.8,601.6 L239.8,601.6 L241.6,601.7 L243.4,601.6 L245.4,602.4 L247.4,602.6 L249.1,602.9 L251.2,602.4 L252.7,602.8 L254.8,603.6 L257.0,603.5 L258.6,603.5 L260.9,604.2 L262.7,604.7 L265.2,605.2 L267.3,605.9 L270.1,604.5 L272.1,603.9 L273.9,603.1 L275.7,602.5 L277.1,601.1 L279.4,600.3 L281.0,600.1 L283.1,598.9 L284.7,598.7 L286.7,597.8 L288.4,596.9 L290.5,596.3 L292.4,594.9 L294.1,594.2 L296.1,593.6 L297.7,593.5 L299.8,592.7 L301.2,593.0 L303.3,591.9 L304.8,591.3 L306.6,590.5 L308.6,590.2 L310.7,590.2 L312.3,588.7 L314.1,588.0 L316.3,587.7 L317.8,586.9 L319.9,586.8 L322.1,587.0 L324.2,586.4 L326.1,586.7 L328.2,586.0 L330.2,585.4 L332.0,585.6 L334.0,585.5 L336.1,585.1 L337.6,585.5 L339.5,585.1 L341.5,584.4 L343.1,585.2 L345.0,584.5 L346.6,584.8 L348.9,584.2 L350.6,584.6 L353.0,584.9 L355.1,584.1 L357.2,584.4 L359.3,584.8 L361.4,584.4 L363.0,584.9 L364.9,585.2 L366.6,585.5 L368.6,585.9 L370.6,586.4 L372.5,586.7 L374.3,587.7 L376.3,588.4 L378.1,588.7 L379.7,588.8 L381.5,589.8 L383.1,590.3 L385.2,591.0 L387.1,591.8 L388.4,593.4 L389.9,594.8 L391.8,596.5 L393.0,597.2 L394.5,599.2 L395.8,600.3 L397.1,602.2 L398.3,604.3 L399.5,605.8 L401.3,607.2 L402.7,608.4 L404.5,610.3 L405.1,611.4 L406.4,612.9 L407.3,614.6 L408.3,616.4 L409.3,618.0 L409.9,619.8 L410.5,622.7 L410.5,624.1 L411.6,627.0 L412.3,628.1 L413.4,630.2 L413.9,632.9 L414.2,634.9 L414.5,635.9 L414.5,638.7 L414.7,640.6 L414.9,642.2 L414.4,644.4 L413.5,646.3 L413.2,648.4 L412.6,649.8 L412.1,652.0 L412.1,653.7 L411.7,656.2 L411.7,657.5 L411.9,659.3 L411.7,662.0 L411.7,663.4 L411.5,665.4 L411.4,667.5 L411.6,668.7 L411.6,671.1 L411.4,672.6 L411.4,673.9 L411.3,676.2 L411.4,677.6 L411.3,680.0 L410.9,681.4 L410.9,683.6 L411.1,685.5 L410.7,687.4 L410.5,689.0 L410.2,690.5 L409.5,693.3 L409.3,695.5 L408.9,697.0 L408.2,698.6 L408.1,700.2 L407.2,701.8 L406.7,704.5 L406.4,705.8 L406.2,707.5 L405.4,709.5 L404.6,712.0 L403.6,713.8 L402.7,715.0 L402.1,717.4 L401.4,719.0 L400.6,720.4 L399.9,722.4 L398.9,725.1 L398.2,726.6 L397.3,728.3 L396.5,729.8 L396.0,732.4 L396.0,734.2 L395.5,735.3 L395.6,737.5 L395.1,739.6 L395.1,740.9 L394.7,743.1 L394.6,744.7 L393.7,746.8 L393.5,748.7 L392.9,750.7 L392.4,752.5 L392.3,754.5 L391.6,755.5 L391.3,757.3 L390.9,759.6 L390.6,761.3 L390.2,763.7 L388.9,765.8 L388.4,768.0 L387.1,769.6 L386.0,771.6 L385.0,772.9 L383.6,774.2 L381.9,776.1 L380.6,777.2 L378.9,778.5 L377.1,779.9 L375.6,780.9 L374.0,782.9 L372.4,783.7 L370.8,784.7 L369.0,785.1 L367.5,787.1 L365.7,787.9 L364.2,788.4 L362.6,790.2 L360.9,791.1 L359.7,792.4 L357.9,793.8 L356.0,794.1 L353.8,795.8 L351.8,796.2 L350.1,797.5 L348.1,797.5 L346.0,798.1 L344.5,798.9 L342.3,798.9 L340.5,799.8 L338.7,799.8 L336.9,800.0 L334.5,800.3 L332.6,800.2 L330.8,800.6 L329.0,800.5 L326.8,800.0 L324.7,800.9 L322.7,800.9 L320.9,800.0 L319.0,800.6 L317.3,800.0 L315.1,800.3 L313.3,799.3 L311.3,799.0 L309.3,799.0 L307.6,799.3 L305.9,798.7 L304.1,798.1 L302.0,798.7 L299.8,797.5 L298.0,797.2 L296.2,797.4 L294.6,796.8 L292.6,796.3 L290.3,796.4 L288.7,796.1 L286.5,795.7 L284.9,795.1 L283.0,795.1 L280.8,795.3 L279.2,796.5 L277.4,796.8 L275.4,798.0 L273.6,798.0 L271.9,798.8 L270.2,799.6 L268.3,800.8 L266.5,800.8 L264.8,802.4 L263.0,802.1 L261.5,803.5 L259.4,804.5 L257.6,804.9 L255.9,805.1 L254.0,805.9 L252.5,806.0 L250.8,806.7 L248.8,807.1 L247.0,807.7 L245.4,808.2 L243.1,808.5 L241.4,808.9 L239.5,808.9 L237.9,809.6 L236.2,810.8 L234.3,811.8 L232.2,812.1 L230.4,812.5 L228.7,813.7 L227.0,813.6 L225.2,813.6 L223.0,813.8 L221.4,814.3 L219.3,814.0 L217.4,814.1 L215.6,813.9 L213.9,814.3 L211.6,815.1 L209.7,814.8 L207.8,814.6 L205.9,814.8 L204.1,815.7 L202.5,815.7 L200.2,815.5 L198.3,815.6 L196.7,815.8 L194.7,816.1 L192.4,816.2 L190.7,816.7 L188.7,816.4 L186.7,816.5 L184.8,816.1 L183.2,815.5 L181.2,815.1 L179.4,814.6 L177.6,814.5 L175.6,813.0 L173.5,812.7 L171.8,812.3 L170.0,812.6 L168.1,811.5 L166.1,811.3 L164.2,809.8 L162.0,809.3 L160.4,807.9 L158.6,807.5 L156.9,805.6 L155.9,803.9 L154.6,803.6 L153.2,802.0 L152.1,800.9 L151.0,799.2 L149.7,796.9 L148.3,796.2 L147.2,793.9 L146.2,792.5 L145.3,790.5 L144.5,789.3 L143.3,788.2 L142.5,785.7 L142.0,785.0 L140.6,783.4 L140.5,780.8 L139.9,778.8 L139.4,777.3 L138.5,776.0 L138.1,773.8 L137.5,772.2 L137.3,770.3 L136.7,768.3 L136.1,766.6 L135.7,763.7 L135.2,762.4 L135.3,760.4 L135.8,758.2 L136.0,755.8 L136.3,753.9 L136.5,752.1 L136.5,750.1 L136.9,748.2 L137.2,746.2 L137.2,744.6 L137.3,742.5 L137.5,741.2 L137.4,739.7 L137.1,737.5 L136.9,735.3 L136.7,734.1 L136.9,732.0 L137.0,730.2 L137.1,728.5 L136.6,726.2 L136.7,724.5 L136.9,722.8 L136.8,721.0 L137.0,718.5 L137.0,716.9 L137.4,715.6 L138.2,713.1 L138.2,711.5 L138.6,709.8 L139.4,707.8 L140.0,705.5 L140.6,703.5" fill="none" stroke="#0000ff" stroke-width="3.7" stroke-linejoin="round"/>
<path d="M199.8,634.0 L200.1,632.2 L199.7,630.0 L200.1,628.0 L199.8,626.5 L200.4,624.0 L201.1,622.9 L202.0,620.4 L202.7,618.6 L203.4,616.3 L203.7,614.7 L204.3,612.9 L205.0,610.3 L205.8,608.5 L206.5,607.2 L207.6,605.1 L208.5,603.5 L209.7,601.7 L211.4,601.5 L213.0,600.0 L214.5,598.6 L216.0,597.4 L217.8,596.6 L219.6,595.3 L221.6,595.5 L223.7,594.7 L225.7,593.7 L227.2,592.5 L228.5,591.0 L230.1,590.3 L231.7,589.0 L233.4,588.7 L235.1,586.7 L237.0,585.9 L238.3,584.3 L240.5,584.4 L242.0,584.8 L244.3,585.3 L245.9,585.2 L248.0,585.6 L250.0,585.6 L251.9,585.9 L253.4,585.8 L255.3,586.7 L257.1,586.4 L259.5,587.4 L261.0,586.9 L262.7,587.5 L264.5,588.2 L266.6,588.2 L268.3,588.6 L269.8,589.4 L272.0,589.6 L273.7,590.7 L275.5,590.6 L277.2,591.4 L279.3,591.7 L281.1,592.1 L282.9,593.0 L284.6,592.5 L286.7,594.0 L288.6,594.4 L290.5,594.5 L292.5,595.5 L294.0,596.1 L295.8,597.3 L297.3,598.7 L298.9,599.3 L300.5,601.1 L302.2,602.6 L303.7,603.2 L305.3,603.8 L306.5,605.3 L308.3,605.9 L309.8,606.7 L311.6,608.2 L313.4,609.6 L314.7,610.7 L316.1,612.4 L317.7,613.7 L319.0,614.6 L320.3,616.4 L321.4,618.1 L322.6,619.3 L324.6,620.2 L326.6,621.2 L328.8,622.0 L330.5,622.3 L332.2,623.9 L333.8,624.3 L335.3,627.2 L336.3,628.3 L336.9,630.5 L337.7,633.3 L338.1,634.5 L338.8,636.7 L339.6,638.2 L339.8,640.5 L340.3,642.0 L340.4,643.8 L340.3,646.6 L340.2,647.6 L340.5,649.6 L340.4,652.0 L339.9,653.3 L339.7,655.8 L339.7,657.9 L339.2,659.3 L338.9,661.6 L338.9,663.2 L338.4,665.2 L338.5,666.3 L337.8,669.0 L337.8,670.7 L337.7,672.6 L337.0,673.8 L336.7,676.3 L336.1,678.3 L335.2,680.1 L334.7,682.4 L334.3,683.8 L333.0,685.9 L332.1,687.6 L330.9,689.2 L330.2,691.4 L329.2,693.7 L328.9,695.0 L329.1,696.9 L328.7,699.4 L328.4,700.7 L328.4,703.3 L328.6,705.0 L329.2,706.8 L330.1,709.1 L331.0,711.4 L331.8,712.4 L332.8,714.7 L333.7,717.0 L334.9,718.9 L335.7,721.1 L335.9,722.6 L336.6,724.3 L337.3,725.9 L338.2,727.6 L338.8,729.7 L339.4,731.5 L339.9,733.3 L340.6,734.5 L341.0,736.6 L342.2,739.2 L342.6,740.4 L343.6,742.2 L344.2,744.0 L345.4,745.8 L345.9,748.5 L346.3,750.0 L346.9,751.5 L347.7,754.0 L348.2,756.3 L348.7,758.2 L348.9,759.6 L349.3,761.6 L349.5,763.4 L349.6,765.4 L350.1,767.1 L349.6,768.7 L349.3,770.2 L349.2,773.0 L349.0,775.0 L348.7,775.8 L348.5,777.7 L347.3,780.7 L346.6,782.1 L345.2,783.7 L344.2,785.9 L344.4,788.0 L344.2,790.7 L344.1,792.0 L343.7,794.4 L342.2,796.1 L341.3,797.0 L340.0,798.8 L338.8,800.3 L336.6,800.9 L334.9,802.0 L332.7,803.1 L330.9,803.7 L329.2,804.3 L327.0,805.9 L325.3,806.2 L323.6,807.0 L321.9,808.2 L320.0,809.2 L318.0,810.0 L317.0,811.5 L315.4,813.5 L314.6,814.2 L313.2,815.7 L311.2,815.7 L309.6,815.3 L307.4,814.5 L305.8,813.8 L304.0,813.6 L301.7,813.2 L300.4,812.9 L298.3,812.3 L296.6,811.9 L294.6,812.1 L293.3,811.5 L291.6,811.3 L289.5,810.9 L288.0,810.6 L285.9,810.0 L284.0,809.8 L282.0,809.6 L279.7,808.5 L277.8,807.9 L276.2,808.1 L273.9,807.1 L272.0,806.3 L270.1,806.8 L268.6,806.8 L266.8,806.0 L264.7,806.4 L262.9,806.3 L261.3,806.1 L259.2,805.4 L257.8,805.0 L256.0,804.2 L254.6,802.8 L252.9,801.7 L251.2,800.8 L249.4,800.1 L248.0,798.9 L246.6,797.1 L245.0,796.9 L243.2,794.8 L241.5,793.8 L239.8,792.9 L238.4,791.6 L237.0,791.0 L235.1,789.4 L233.6,789.2 L232.2,787.9 L230.7,786.0 L229.4,785.8 L228.0,784.3 L227.0,782.9 L225.6,781.3 L223.8,780.8 L221.6,779.3 L219.6,778.7 L217.4,778.2 L216.6,776.8 L215.6,774.8 L214.5,772.5 L213.7,770.0 L212.6,768.7 L212.4,766.2 L211.4,765.1 L211.0,763.0 L210.3,760.6 L209.6,758.5 L209.8,756.5 L209.3,755.2 L209.4,753.1 L209.7,751.2 L209.7,749.1 L210.2,747.0 L210.3,745.2 L210.5,743.4 L210.6,742.2 L211.3,740.1 L211.2,738.2 L211.7,735.8 L211.7,734.5 L212.1,732.3 L212.6,731.1 L212.4,729.1 L212.5,726.8 L213.1,725.3 L213.7,723.3 L214.3,721.1 L215.1,719.2 L215.5,717.8 L216.2,715.5 L216.7,714.2 L217.8,712.4 L218.7,709.8 L220.0,708.6 L220.9,707.0 L221.4,704.1 L221.3,702.4 L221.4,701.0 L221.0,699.0 L220.9,697.4 L221.0,694.6 L220.4,692.2 L220.2,690.7 L219.1,688.9 L217.8,686.9 L217.3,685.2 L216.2,683.8 L215.6,682.4 L214.9,680.4 L214.0,677.6 L213.6,676.5 L212.8,674.1 L212.2,672.9 L211.2,670.9 L210.9,668.9 L210.2,667.0 L209.6,665.2 L208.9,663.7 L207.8,661.5 L207.6,659.4 L206.4,657.6 L206.0,655.6 L205.5,653.5 L204.5,652.6 L203.7,650.1 L203.1,648.3 L202.9,647.2 L202.3,645.4 L202.2,643.1 L201.5,641.8 L201.1,639.8 L201.0,637.9 L200.3,636.1 L200.0,634.2" fill="none" stroke="#0000ff" stroke-width="3.7" stroke-linejoin="round"/>
<path d="M124.0,698.0 C124.1,696.7 124.1,694.2 124.8,690.2 C125.5,686.2 126.7,678.5 128.0,674.2 C129.3,669.9 130.9,667.5 132.8,664.6 C134.7,661.7 136.5,659.5 139.2,656.6 C141.9,653.7 145.3,650.2 148.8,647.0 C152.3,643.8 156.0,640.9 160.0,637.4 C164.0,633.9 168.3,629.0 172.8,626.2 C177.3,623.4 182.1,622.2 187.2,620.6 C192.3,619.0 197.3,617.7 203.2,616.6 C209.1,615.5 215.5,614.7 222.4,614.2 C229.3,613.7 237.9,613.5 244.8,613.4 C251.7,613.3 257.1,613.5 264.0,613.4 C270.9,613.3 279.7,612.9 286.0,612.6 C292.3,612.3 295.3,612.0 302.0,611.8 C308.7,611.6 319.3,611.4 326.0,611.5 C332.7,611.6 336.7,611.9 342.0,612.6 C347.3,613.3 352.7,614.3 358.0,615.8 C363.3,617.3 368.7,619.1 374.0,621.4 C379.3,623.7 385.2,626.5 390.0,629.4 C394.8,632.3 399.3,635.5 402.8,639.0 C406.3,642.5 408.7,646.5 410.8,650.2 C412.9,653.9 414.0,657.4 415.6,661.4 C417.2,665.4 419.1,669.9 420.4,674.2 C421.7,678.5 422.8,682.5 423.6,687.0 C424.4,691.5 425.1,697.5 425.2,701.0 C425.3,704.5 425.2,704.3 424.4,707.8 C423.6,711.3 422.1,717.7 420.4,722.2 C418.7,726.7 416.4,731.0 414.0,735.0 C411.6,739.0 409.2,742.5 406.0,746.2 C402.8,749.9 398.8,753.9 394.8,757.4 C390.8,760.9 386.8,763.8 382.0,767.0 C377.2,770.2 371.3,774.1 366.0,776.6 C360.7,779.1 354.8,780.7 350.0,782.2 C345.2,783.7 342.5,784.7 337.2,785.4 C331.9,786.1 323.9,785.9 318.0,786.2 C312.1,786.5 307.3,786.9 302.0,787.0 C296.7,787.1 292.3,787.1 286.0,787.0 C279.7,786.9 270.9,786.1 264.0,786.2 C257.1,786.3 251.5,787.3 244.8,787.8 C238.1,788.3 230.9,789.4 224.0,789.4 C217.1,789.4 209.9,788.9 203.2,787.8 C196.5,786.7 189.6,784.9 184.0,783.0 C178.4,781.1 174.1,779.3 169.6,776.6 C165.1,773.9 160.8,770.5 156.8,767.0 C152.8,763.5 149.1,759.8 145.6,755.8 C142.1,751.8 138.7,747.3 136.0,743.0 C133.3,738.7 131.5,735.5 129.6,730.2 C127.7,724.9 125.7,716.4 124.8,711.0 C123.9,705.6 124.1,700.2 124.0,698.0" fill="none" stroke="#ff0000" stroke-width="3.5" stroke-dasharray="11 5.4"/>
<path d="M198.4,703.0 C198.5,700.3 198.7,691.8 199.2,687.0 C199.7,682.2 200.4,677.9 201.6,674.2 C202.8,670.5 204.5,667.8 206.4,664.6 C208.3,661.4 210.1,658.5 212.8,655.0 C215.5,651.5 218.7,647.3 222.4,643.8 C226.1,640.3 230.9,637.1 235.2,634.2 C239.5,631.3 243.7,628.3 248.0,626.2 C252.3,624.1 256.5,622.6 260.8,621.4 C265.1,620.2 269.4,619.3 273.6,619.0 C277.8,618.7 281.3,618.9 286.0,619.8 C290.7,620.7 296.7,622.2 302.0,624.6 C307.3,627.0 313.5,630.7 318.0,634.2 C322.5,637.7 326.0,641.7 329.2,645.4 C332.4,649.1 334.8,652.9 337.2,656.6 C339.6,660.3 342.0,664.1 343.6,667.8 C345.2,671.5 345.9,675.3 346.8,679.0 C347.7,682.7 348.7,686.2 349.2,690.2 C349.7,694.2 349.9,699.5 350.0,703.0 C350.1,706.5 350.3,707.8 350.0,711.0 C349.7,714.2 349.5,718.5 348.4,722.2 C347.3,725.9 345.5,729.7 343.6,733.4 C341.7,737.1 339.6,740.9 337.2,744.6 C334.8,748.3 332.4,752.3 329.2,755.8 C326.0,759.3 322.5,762.6 318.0,765.4 C313.5,768.2 307.3,770.5 302.0,772.6 C296.7,774.7 291.0,776.6 286.0,778.2 C281.0,779.8 275.7,781.6 272.0,782.0 C268.3,782.4 268.0,781.6 264.0,780.6 C260.0,779.6 252.8,777.8 248.0,775.8 C243.2,773.8 239.2,771.4 235.2,768.6 C231.2,765.8 227.7,762.7 224.0,759.0 C220.3,755.3 216.0,750.7 212.8,746.2 C209.6,741.7 206.9,737.7 204.8,731.8 C202.7,725.9 201.1,715.8 200.0,711.0 C198.9,706.2 198.7,704.3 198.4,703.0" fill="none" stroke="#ff0000" stroke-width="3.5" stroke-dasharray="11 5.4"/>
<circle cx="274.6" cy="700.2" r="168.6" fill="none" stroke="#000" stroke-width="3.6"/>
<line x1="443.20" y1="700.20" x2="447.70" y2="700.20" stroke="#000" stroke-width="3.6"/>
<line x1="393.82" y1="580.98" x2="397.00" y2="577.80" stroke="#000" stroke-width="3.6"/>
<line x1="274.60" y1="531.60" x2="274.60" y2="527.10" stroke="#000" stroke-width="3.6"/>
<line x1="155.38" y1="580.98" x2="152.20" y2="577.80" stroke="#000" stroke-width="3.6"/>
<line x1="106.00" y1="700.20" x2="101.50" y2="700.20" stroke="#000" stroke-width="3.6"/>
<line x1="155.38" y1="819.42" x2="152.20" y2="822.60" stroke="#000" stroke-width="3.6"/>
<line x1="274.60" y1="868.80" x2="274.60" y2="873.30" stroke="#000" stroke-width="3.6"/>
<line x1="393.82" y1="819.42" x2="397.00" y2="822.60" stroke="#000" stroke-width="3.6"/>
<line x1="274.6" y1="700.2" x2="485" y2="700.2" stroke="#000" stroke-width="4"/>
<path d="M499,700.2 L480,694.8000000000001 L483.5,700.2 L480,705.6 Z" fill="#000"/>
<line x1="316.75" y1="700.2" x2="316.75" y2="704.4000000000001" stroke="#000" stroke-width="2.8"/>
<line x1="358.90" y1="700.2" x2="358.90" y2="704.4000000000001" stroke="#000" stroke-width="2.8"/>
<line x1="401.05" y1="700.2" x2="401.05" y2="704.4000000000001" stroke="#000" stroke-width="2.8"/>
<circle cx="274.6" cy="700.2" r="4.6" fill="#000"/>
<text transform="translate(274.60,728.20)" font-family="Liberation Serif" font-size="27">0</text>
<text transform="translate(316.75,728.20)" font-family="Liberation Serif" font-size="27">3</text>
<text transform="translate(358.90,728.20)" font-family="Liberation Serif" font-size="27">6</text>
<text transform="translate(401.05,728.20)" font-family="Liberation Serif" font-size="27">9</text>
<text transform="translate(442.20,728.20)" font-family="Liberation Serif" font-size="27">12</text>
<text transform="translate(257.00,509.50) scale(1.0303,1.0000)" font-family="Liberation Serif" font-size="27"><tspan font-style="italic">π</tspan>/2</text>
<text transform="translate(249.77,910.00) scale(1.0261,1.0000)" font-family="Liberation Serif" font-size="27">3<tspan font-style="italic">π</tspan>/2</text>
<text transform="translate(101.59,568.00) scale(1.0085,1.0000)" font-family="Liberation Serif" font-size="27">3<tspan font-style="italic">π</tspan>/4</text>
<text transform="translate(400.00,568.00) scale(1.0353,1.0000)" font-family="Liberation Serif" font-size="27"><tspan font-style="italic">π</tspan>/4</text>
<text transform="translate(102.51,851.20) scale(0.9894,1.0000)" font-family="Liberation Serif" font-size="27">5<tspan font-style="italic">π</tspan>/4</text>
<text transform="translate(398.10,851.00) scale(0.9979,1.0000)" font-family="Liberation Serif" font-size="27">7<tspan font-style="italic">π</tspan>/4</text>
<text transform="translate(76.00,709.80)" font-family="Liberation Serif" font-size="27" font-style="italic">π</text>
<text transform="translate(480.82,670.20) scale(1.1846,1.0000)" font-family="Liberation Serif" font-size="27" font-style="italic">d</text>
<text transform="translate(498.00,677.00) scale(1.2000,1.0000)" font-family="Liberation Serif" font-size="19" font-style="italic">ϕ</text>
<text transform="translate(510.70,677.00) scale(1.1444,1.0000)" font-family="Liberation Serif" font-size="19">0</text>
<text transform="translate(445.16,754.30) scale(1.1375,1.2000)" font-family="Liberation Serif" font-size="27">(</text>
<text transform="translate(456.50,754.30) scale(1.1548,1.0000)" font-family="Liberation Serif" font-size="27">mm</text>
<text transform="translate(515.50,754.30) scale(1.2000,1.0000)" font-family="Liberation Serif" font-size="27">s</text>
<text transform="translate(527.97,743.80) scale(1.6333,1.0000)" font-family="Liberation Serif" font-size="19">−</text>
<text transform="translate(546.71,743.80) scale(1.1429,1.0000)" font-family="Liberation Serif" font-size="19">1</text>
<text transform="translate(560.00,754.30) scale(1.0000,1.2000)" font-family="Liberation Serif" font-size="27">)</text>
<text transform="translate(23.70,749.90) rotate(-90) scale(0.9458,1.0000)" font-family="Liberation Serif" font-size="33">A</text>
<text transform="translate(25.10,716.46) rotate(-90) scale(1.3563,0.8200)" font-family="Liberation Serif" font-size="33">=</text>
<text transform="translate(23.50,691.53) rotate(-90) scale(1.0099,1.0000)" font-family="Liberation Serif" font-size="33">1.44g</text>
<path d="M654.5,844.0 L655.1,844.0 L657.2,840.5 L657.4,839.9 L657.5,838.6 L657.9,837.5 L658.1,836.5 L658.5,834.9 L658.9,833.5 L659.5,832.4 L659.8,830.2 L660.1,828.9 L660.5,826.5 L661.1,825.1 L661.3,822.8 L661.7,821.3 L662.6,820.1 L662.8,818.4 L663.3,816.4 L663.9,814.2 L664.0,813.3 L664.5,811.7 L665.0,809.8 L665.7,808.4 L665.8,806.4 L666.4,805.4 L667.1,803.1 L667.4,801.4 L667.7,800.3 L668.4,798.6 L669.1,797.5 L669.6,795.9 L670.2,794.6 L670.4,793.0 L670.8,790.8 L671.3,789.6 L672.0,788.0 L672.7,786.1 L673.3,784.9 L673.5,783.5 L674.4,781.6 L675.0,780.8 L675.3,779.3 L675.8,777.2 L676.6,775.5 L677.1,774.4 L677.6,772.3 L678.4,771.4 L678.8,769.4 L679.4,768.0 L680.3,766.6 L680.9,764.9 L681.4,763.0 L682.0,761.8 L682.8,759.5 L683.5,758.7 L684.3,756.8 L684.7,755.7 L685.6,753.7 L686.4,752.8 L686.8,751.5 L687.7,750.1 L688.3,748.2 L689.2,746.2 L689.8,744.6 L690.9,744.0 L691.3,742.0 L692.3,740.6 L693.1,739.2 L693.7,737.0 L694.7,736.5 L695.6,735.0 L696.0,733.4 L697.0,731.2 L697.6,729.9 L698.5,728.6 L699.2,727.4 L700.0,726.3 L700.5,724.6 L701.5,722.5 L702.5,721.3 L703.1,719.8 L703.7,718.9 L704.4,717.3 L705.6,715.4 L706.0,714.1 L706.8,713.4 L707.6,711.1 L708.3,710.6 L709.4,708.3 L709.8,707.3 L710.7,706.4 L711.8,704.4 L712.2,703.2 L713.0,701.8 L714.0,700.8 L715.0,699.5 L716.1,697.7 L716.9,696.3 L718.1,694.8 L718.7,693.1 L719.9,692.4 L720.7,691.1 L721.5,689.8 L722.3,687.6 L723.5,687.0 L724.3,685.5 L725.2,683.6 L726.2,683.1 L726.8,681.1 L728.0,679.9 L729.0,678.3 L729.9,677.2 L731.0,675.9 L731.9,674.1 L733.0,672.7 L733.8,671.2 L734.9,670.1 L735.7,668.9 L736.8,666.9 L737.5,665.4 L738.4,664.0 L739.2,663.1 L740.2,661.9 L740.9,660.0 L742.2,659.4 L743.0,658.3 L744.1,656.3 L745.2,654.3 L745.9,653.2 L747.0,651.8 L747.5,650.7 L748.6,649.2 L749.2,648.3 L750.1,647.0 L751.3,645.3 L752.2,644.1 L753.3,643.3 L754.0,641.7 L755.3,640.8 L756.4,639.2 L757.9,638.3 L758.7,636.9 L759.8,635.8 L761.1,635.3 L762.7,633.9 L763.5,632.5 L765.2,632.4 L766.5,631.2 L767.6,629.9 L768.9,629.1 L770.2,628.2 L772.0,627.4 L773.2,626.5 L774.6,626.0 L776.0,625.0 L777.6,624.1 L778.9,623.3 L780.2,622.2 L781.5,621.6 L783.2,620.3 L784.5,619.8 L785.8,618.6 L787.5,617.6 L788.6,616.4 L790.0,615.7 L791.5,615.1 L793.0,613.5 L794.3,612.7 L796.1,611.9 L797.3,611.8 L798.9,610.4 L799.9,610.1 L801.6,609.3 L803.1,608.3 L804.4,607.5 L805.8,606.1 L807.1,606.1 L808.8,604.9 L810.0,604.4 L811.6,604.4 L812.8,603.9 L814.4,602.5 L815.9,602.3 L817.3,602.5 L818.7,601.5 L820.5,601.2 L822.2,601.2 L824.0,600.4 L825.5,600.2 L826.9,600.7 L828.5,600.1 L830.1,599.8 L832.0,599.9 L833.8,599.7 L835.3,600.3 L837.3,599.9 L838.8,600.5 L840.8,600.2 L842.4,600.1 L844.3,600.0 L846.0,600.8 L847.7,600.6 L849.4,600.3 L851.2,600.5 L853.1,601.5 L854.9,601.7 L856.3,601.7 L858.3,601.8 L860.0,602.3 L861.3,602.0 L863.4,603.1 L865.0,603.0 L866.6,603.6 L868.1,603.6 L869.5,603.4 L871.4,603.7 L873.1,604.2 L875.1,603.9 L876.6,604.0 L878.1,604.0 L879.5,604.1 L881.1,604.4 L882.8,604.4 L884.3,604.7 L885.5,605.4 L887.3,605.2 L888.8,605.7 L890.2,606.2 L891.6,606.3 L892.8,607.4 L894.3,607.9 L895.9,608.2 L897.5,608.5 L899.1,608.8 L900.8,609.9 L902.1,610.4 L903.9,610.2 L905.1,611.2 L906.8,611.0 L908.4,612.1 L910.2,612.2 L911.6,612.9 L913.1,612.6 L914.9,613.2 L916.4,613.9 L918.2,614.1 L919.7,614.6 L921.6,616.1 L923.1,615.7 L924.4,617.0 L926.1,617.6 L927.6,618.4 L929.2,618.6 L930.9,618.9 L932.3,620.3 L934.2,620.8 L935.7,621.2 L937.1,621.4 L938.9,622.7 L940.2,623.5 L941.9,623.3 L943.3,624.1 L945.1,625.3 L946.7,625.6 L948.4,626.2 L949.7,627.1 L951.7,628.0 L953.3,628.2 L954.8,629.1 L956.4,630.0 L958.1,630.6 L959.7,630.5 L961.0,631.3 L962.8,632.5 L964.4,632.8 L965.5,633.4 L966.9,633.8 L968.8,634.9 L970.8,634.7 L972.4,635.9 L973.9,636.3 L975.6,637.2 L976.7,637.3 L978.2,637.7 L979.6,638.6 L981.0,638.6 L982.3,639.6 L984.1,640.2 L986.2,640.2 L987.8,641.1 L989.9,641.0 L991.2,641.2 L992.4,640.9 L993.4,641.5" fill="none" stroke="#1278dc" stroke-width="4.8" stroke-linejoin="round"/>
<path d="M654.5,844.0 L654.6,843.0 L654.8,842.4 L655.3,841.3 L655.8,839.8 L656.0,838.0 L656.1,836.9 L656.9,834.8 L657.3,833.2 L657.6,831.8 L658.3,829.7 L658.7,827.5 L659.2,825.5 L659.2,824.0 L659.3,822.3 L660.1,820.9 L660.1,819.5 L660.3,818.2 L660.6,817.0 L661.0,814.9 L661.4,813.6 L661.7,812.5 L662.3,810.8 L662.5,808.4 L662.9,806.8 L663.1,805.0 L663.5,803.4 L664.0,802.2 L664.2,799.8 L664.3,798.4 L664.9,796.6 L665.3,795.0 L665.4,792.9 L665.6,791.7 L666.3,790.2 L666.6,788.6 L666.6,786.6 L667.0,785.5 L667.1,783.9 L667.6,781.4 L667.6,779.8 L668.3,778.3 L668.5,777.0 L668.5,774.9 L668.8,773.0 L669.1,771.9 L669.5,770.0 L669.8,768.4 L670.1,766.3 L670.1,764.8 L670.7,763.5 L670.9,761.9 L671.3,760.3 L671.5,758.7 L671.6,756.4 L672.0,755.2 L672.3,753.3 L672.6,752.2 L672.8,750.3 L673.0,748.4 L673.6,746.5 L673.6,745.2 L673.9,743.4 L674.0,742.1 L674.3,740.0 L674.7,738.1 L675.2,737.2 L675.0,734.7 L675.3,733.3 L675.7,732.0 L675.9,730.0 L676.6,729.2 L676.4,727.1 L676.7,725.4 L677.2,724.1 L677.3,722.7 L677.7,720.7 L677.7,719.6 L678.3,718.5 L678.5,715.9 L679.1,714.1 L679.1,712.8 L679.6,710.7 L680.0,708.9 L680.4,707.0 L680.4,705.5 L681.1,704.3 L681.5,702.2 L681.8,700.5 L682.0,698.7 L682.3,697.1 L682.8,695.6 L683.1,694.3 L683.2,693.0 L683.4,691.4 L683.8,689.7 L684.0,687.6 L684.7,685.7 L684.8,684.1 L685.0,682.8 L685.7,681.2 L686.1,679.6 L686.3,677.9 L686.4,677.1 L686.7,675.3 L687.3,674.0 L687.9,672.2 L688.0,670.1 L688.7,668.9 L689.4,667.7 L689.8,666.0 L690.1,664.1 L690.8,662.5 L691.2,660.6 L691.7,659.3 L692.2,657.7 L693.2,655.3 L693.8,653.8 L694.3,652.1 L694.7,651.1 L695.7,649.5 L696.0,647.3 L697.0,645.9 L697.5,644.8 L698.3,642.7 L698.9,641.9 L699.5,640.0 L700.3,638.0 L701.3,636.9 L702.0,635.5 L702.5,634.0 L703.0,633.1 L703.9,631.6 L704.9,630.1 L705.6,628.1 L706.5,626.9 L707.4,625.4 L708.2,624.0 L708.8,623.0 L709.8,621.3 L710.4,619.7 L711.5,618.7 L712.5,617.5 L713.4,615.9 L714.3,614.8 L715.7,613.9 L716.7,611.8 L717.5,610.4 L718.8,609.6 L719.9,607.8 L720.5,606.8 L721.6,605.8 L722.8,605.3 L724.2,603.8 L725.7,602.6 L727.0,601.6 L728.6,600.3 L729.6,600.0 L731.0,599.3 L732.6,598.8 L734.1,597.6 L735.4,596.8 L737.0,596.7 L738.9,597.0 L740.5,596.3 L742.0,596.1 L743.4,596.0 L745.0,595.4 L747.0,595.3 L748.5,595.2 L749.9,595.2 L751.7,595.6 L753.3,594.8 L754.6,595.1 L756.2,594.8 L757.9,594.4 L759.8,594.7 L761.1,594.5 L762.9,593.8 L764.6,594.4 L766.3,594.4 L767.8,594.6 L769.4,594.5 L770.6,595.1 L772.5,595.8 L774.2,595.8 L776.0,596.4 L777.9,597.0 L779.8,597.3 L781.4,597.7 L782.6,598.0 L783.9,599.5 L785.5,599.2 L787.3,600.2 L788.7,600.9 L790.6,601.1 L792.3,601.8 L793.6,603.2 L795.4,603.2 L797.2,604.0 L798.8,604.5 L800.5,605.8 L801.9,605.9 L803.6,606.7 L805.1,608.0 L806.2,607.8 L807.6,608.3 L809.1,609.9 L810.7,610.4 L812.3,611.0 L813.6,611.3 L815.1,611.6 L816.7,612.4 L818.2,613.2 L819.4,613.9 L820.9,614.8 L822.7,615.1 L824.1,615.7 L825.3,616.7 L826.9,617.9 L828.2,618.3 L829.8,618.8 L831.2,619.5 L832.8,620.8 L834.5,621.1 L835.5,621.7 L837.3,622.5 L838.6,623.1 L840.3,624.3 L841.6,624.9 L842.8,625.6 L844.7,626.5 L846.1,627.0 L847.5,628.1 L849.0,628.5 L850.3,629.4 L851.9,630.5 L853.3,631.5 L854.9,632.1 L856.6,633.0 L858.2,633.8 L859.3,634.3 L860.8,635.7 L862.3,636.1 L864.1,637.0 L865.5,637.6 L866.8,638.6 L867.9,639.2 L869.6,639.8 L871.0,641.2 L872.3,641.7 L873.8,642.5 L874.9,644.4 L876.2,645.3 L877.7,645.6 L878.9,647.1 L880.2,647.8 L881.6,648.2 L882.8,649.2 L884.0,650.9 L885.5,651.8 L886.8,652.4 L888.1,653.5 L889.6,654.0 L890.8,655.4 L892.2,656.1 L893.7,657.7 L894.9,658.8 L896.5,659.9 L898.0,661.2 L899.1,661.8 L900.7,663.0 L902.0,664.1 L903.2,664.5 L904.6,665.8 L906.1,666.1 L907.8,667.0 L909.3,668.6 L910.5,669.6 L911.8,669.8 L913.3,670.4 L914.9,671.1 L916.5,672.3 L917.8,673.0 L919.2,674.1 L920.6,674.7 L922.2,675.5 L923.9,675.6 L925.7,676.2 L927.3,677.2 L928.7,677.5 L930.6,678.2 L932.2,678.9 L933.6,679.7 L935.3,680.1 L936.8,680.6 L938.5,681.3 L939.9,681.9 L941.8,681.9 L943.2,682.4 L944.7,682.6 L945.9,682.5 L947.9,682.8 L949.4,682.5 L950.7,682.6 L952.4,683.3 L954.3,682.8 L956.2,683.5 L957.8,683.4 L959.2,683.1 L960.9,683.6 L962.9,683.7 L964.3,683.8 L966.4,683.1 L968.3,683.8 L970.0,682.9 L971.8,683.8 L973.1,683.8 L975.1,683.0 L976.4,683.2 L978.1,683.5 L980.1,683.2 L982.1,682.9 L984.2,683.0 L986.0,683.1 L988.0,683.8 L989.7,683.5 L990.9,683.5 L992.4,683.0 L993.4,683.3" fill="none" stroke="#00aa00" stroke-width="4.8" stroke-linejoin="round"/>
<path d="M654.5,844.0 L654.8,843.0 L654.7,842.4 L655.2,840.6 L655.3,839.9 L655.6,838.3 L655.8,837.5 L655.8,835.9 L656.1,834.4 L656.3,832.8 L656.6,830.9 L657.1,828.7 L657.1,827.2 L657.8,825.6 L658.1,823.9 L658.2,822.2 L658.6,819.9 L658.9,817.7 L659.2,816.2 L659.7,814.2 L659.7,812.3 L660.2,810.7 L660.5,808.6 L660.7,807.5 L661.1,805.6 L661.0,804.2 L661.2,802.8 L661.7,801.0 L661.7,799.4 L662.3,797.8 L662.4,795.7 L662.3,794.2 L662.7,791.9 L662.8,790.6 L663.0,789.0 L663.4,787.9 L663.4,786.0 L663.8,783.7 L663.8,782.4 L664.0,781.2 L664.3,779.6 L664.4,777.7 L664.8,775.9 L664.9,774.7 L665.4,773.2 L665.6,772.4 L665.5,770.0 L665.6,768.9 L665.9,766.8 L666.3,764.9 L666.4,763.2 L666.8,762.0 L667.1,760.3 L667.4,758.8 L667.4,756.6 L668.0,754.9 L668.3,754.0 L668.5,752.0 L668.7,750.4 L668.8,748.8 L669.1,747.3 L669.5,745.3 L669.5,744.0 L669.9,741.9 L670.3,741.1 L670.6,738.6 L671.0,736.9 L671.0,736.0 L671.2,733.9 L671.6,732.4 L671.9,730.9 L671.9,728.9 L672.4,727.3 L672.5,725.6 L673.1,723.3 L673.3,722.4 L673.6,719.9 L673.6,718.5 L674.2,717.5 L674.0,715.6 L674.8,713.9 L674.9,712.9 L675.2,711.0 L675.2,709.0 L675.5,707.0 L676.1,706.0 L676.4,704.1 L676.4,703.1 L676.8,701.8 L677.0,700.2 L677.2,698.4 L677.7,696.7 L678.3,695.6 L678.7,694.1 L678.7,692.2 L679.4,689.6 L679.4,688.2 L680.1,686.7 L680.3,685.2 L680.6,683.7 L681.0,682.7 L681.9,680.2 L681.9,679.2 L682.5,676.8 L683.2,675.1 L683.6,673.8 L683.7,671.8 L684.3,670.2 L684.9,668.2 L685.5,666.9 L685.9,665.4 L686.1,663.2 L686.9,662.0 L686.8,661.0 L687.4,659.1 L687.9,658.5 L688.6,655.6 L689.1,653.3 L689.6,651.5 L690.2,650.4 L691.0,649.2 L691.6,647.5 L692.3,647.0 L692.9,645.5 L693.4,644.2 L694.3,642.1 L694.6,640.7 L695.3,639.8 L696.0,638.4 L697.1,636.8 L697.8,635.1 L698.4,634.3 L699.2,632.7 L700.2,631.0 L701.6,630.0 L702.5,628.9 L703.5,627.1 L705.0,626.0 L706.2,625.0 L707.3,623.9 L708.7,622.6 L710.4,621.4 L711.9,620.5 L713.4,620.0 L715.2,618.2 L716.5,618.2 L718.3,616.8 L720.1,616.4 L721.6,615.9 L722.8,615.1 L725.0,615.0 L726.4,615.1 L727.9,615.7 L729.9,617.0 L730.9,617.8 L732.2,618.4 L734.1,619.0 L735.4,619.9 L736.8,621.4 L738.5,621.9 L739.8,622.7 L741.2,623.7 L742.7,625.0 L743.7,626.5 L745.4,627.6 L746.6,629.2 L748.0,629.8 L749.1,631.1 L750.5,632.1 L751.6,633.4 L752.9,635.1 L754.0,636.3 L755.0,636.8 L756.4,637.9 L757.4,639.6 L758.3,640.5 L759.5,642.3 L760.8,642.7 L761.6,645.0 L762.8,645.8 L763.8,646.6 L764.7,648.1 L765.7,649.5 L766.7,650.9 L768.2,652.0 L769.2,653.8 L770.1,654.3 L771.1,656.0 L772.4,656.7 L773.4,657.5 L774.7,659.1 L775.8,659.8 L776.8,660.4 L778.1,660.5 L780.0,662.4 L780.7,663.6 L781.7,663.8 L782.7,664.8 L783.8,666.7 L785.0,667.1 L786.2,668.9 L787.4,670.3 L788.9,671.1 L790.0,672.8 L791.6,673.7 L792.6,674.8 L793.9,676.5 L795.0,677.4 L796.6,678.8 L797.8,679.8 L799.0,680.9 L800.4,682.2 L801.6,684.1 L802.8,684.9 L804.3,686.1 L805.8,686.5 L806.9,688.4 L808.5,688.6 L809.6,689.9 L810.6,691.4 L811.7,692.3 L812.8,692.9 L814.0,694.2 L815.7,696.1 L816.8,697.6 L817.4,699.0 L818.6,699.7 L819.8,700.9 L820.6,702.9 L821.8,704.2 L823.0,705.4 L823.8,706.4 L825.2,707.6 L826.5,708.5 L827.9,709.4 L828.9,710.9 L830.6,711.4 L831.7,713.0 L832.9,714.0 L834.4,714.6 L835.6,715.5 L837.2,716.8 L838.7,717.3 L840.3,718.3 L841.5,718.3 L843.4,719.1 L844.6,719.6 L846.3,720.7 L847.8,721.7 L849.3,721.6 L850.9,722.2 L852.8,723.3 L854.1,723.2 L855.7,724.1 L857.5,724.6 L859.1,724.5 L860.6,725.7 L862.3,725.8 L864.2,726.1 L866.0,725.9 L868.2,726.0 L869.7,726.4 L870.9,725.9 L872.6,726.1 L874.1,725.8 L875.8,726.6 L877.9,726.3 L879.4,725.5 L881.4,725.8 L883.2,725.7 L884.8,725.3 L886.7,725.4 L888.0,725.2 L890.2,724.8 L891.7,725.0 L893.5,724.3 L895.3,724.2 L896.9,724.1 L898.5,723.4 L900.1,723.3 L901.7,722.7 L903.5,723.1 L905.0,722.7 L907.0,721.9 L908.8,722.3 L910.4,722.3 L912.1,721.5 L913.7,721.6 L915.3,722.0 L916.8,722.0 L918.5,721.7 L920.2,721.9 L922.0,722.2 L923.8,722.4 L925.4,722.0 L927.1,722.6 L928.9,723.1 L930.4,723.1 L932.5,723.2 L933.8,723.1 L935.5,723.4 L937.2,722.9 L939.0,722.5 L940.8,723.0 L942.3,722.5 L943.9,722.7 L946.0,722.6 L947.5,722.9 L949.2,723.3 L950.9,722.7 L952.9,722.4 L954.4,723.0 L956.1,722.9 L957.7,722.7 L959.5,722.9 L961.3,723.3 L963.0,723.2 L964.5,723.2 L966.5,723.1 L968.2,723.3 L970.1,723.7 L971.8,723.8 L973.1,724.1 L975.1,723.5 L976.7,724.3 L977.8,723.6 L979.9,724.5 L981.9,724.6 L984.2,724.4 L986.0,724.7 L988.2,724.8 L989.6,724.8 L991.2,725.0 L992.3,725.2 L993.4,725.1" fill="none" stroke="#ffbf0c" stroke-width="4.8" stroke-linejoin="round"/>
<path d="M654.5,844.0 C655.2,840.8 657.1,831.9 658.5,825.0 C659.9,818.1 661.2,810.1 662.9,802.7 C664.6,795.3 666.6,788.4 668.8,780.5 C671.0,772.6 673.7,763.5 676.2,755.4 C678.7,747.3 681.1,739.4 683.6,731.7 C686.1,724.1 688.8,717.5 691.0,709.5 C693.2,701.5 694.7,690.9 696.9,684.0 C699.1,677.1 702.2,672.9 704.3,668.1 C706.4,663.3 707.6,659.0 709.5,655.0 C711.4,651.0 713.1,648.9 715.8,644.0 C718.5,639.1 722.1,630.9 725.6,625.8 C729.1,620.7 733.1,617.4 736.8,613.2 C740.5,609.0 744.3,604.3 748.0,600.6 C751.7,596.9 755.7,593.1 759.2,590.8 C762.7,588.5 765.3,587.5 769.0,586.6 C772.7,585.7 776.1,585.3 781.6,585.2 C787.1,585.1 794.9,585.4 802.0,585.8 C809.1,586.2 816.7,586.8 824.0,587.6 C831.3,588.5 838.7,589.3 846.0,590.9 C853.3,592.6 860.7,595.1 868.0,597.5 C875.3,599.9 882.7,602.6 890.0,605.2 C897.3,607.8 904.7,610.0 912.0,612.9 C919.3,615.8 926.7,619.1 934.0,622.8 C941.3,626.5 948.7,631.1 956.0,634.9 C963.3,638.8 971.8,642.6 978.0,645.9 C984.2,649.2 990.8,653.2 993.4,654.7" fill="none" stroke="#1278dc" stroke-width="4.8" stroke-linejoin="round" stroke-dasharray="16.8 7"/>
<path d="M654.5,844.0 C655.2,840.8 657.1,831.9 658.5,825.0 C659.9,818.1 661.2,810.1 662.9,802.7 C664.6,795.3 666.6,788.4 668.8,780.5 C671.0,772.6 673.7,763.5 676.2,755.4 C678.7,747.3 681.1,739.4 683.6,731.7 C686.1,724.1 688.8,716.8 691.0,709.5 C693.2,702.2 694.8,693.6 697.0,688.0 C699.2,682.4 701.5,680.0 704.0,676.0 C706.5,672.0 708.2,667.5 711.7,663.7 C715.2,659.9 720.8,656.1 725.0,653.3 C729.2,650.5 732.5,648.6 736.8,646.8 C741.1,645.0 746.1,643.5 750.8,642.6 C755.5,641.7 759.9,641.2 764.8,641.2 C769.7,641.2 773.8,641.5 780.0,642.6 C786.2,643.8 794.7,645.9 802.0,648.1 C809.3,650.3 816.7,653.0 824.0,655.8 C831.3,658.5 838.7,661.9 846.0,664.6 C853.3,667.4 860.7,669.4 868.0,672.3 C875.3,675.2 882.7,679.1 890.0,682.2 C897.3,685.3 904.7,688.6 912.0,691.0 C919.3,693.4 926.7,694.9 934.0,696.5 C941.3,698.1 948.7,699.3 956.0,700.9 C963.3,702.6 971.8,704.9 978.0,706.4 C984.2,707.9 990.8,709.2 993.4,709.7" fill="none" stroke="#00aa00" stroke-width="4.8" stroke-linejoin="round" stroke-dasharray="16.8 7"/>
<path d="M654.5,844.0 C655.2,840.8 657.1,831.9 658.5,825.0 C659.9,818.1 661.2,810.1 662.9,802.7 C664.6,795.3 666.6,788.4 668.8,780.5 C671.0,772.6 673.7,763.5 676.2,755.4 C678.7,747.3 681.1,739.4 683.6,731.7 C686.1,724.1 688.5,717.4 691.0,709.5 C693.5,701.6 696.1,689.7 698.4,684.4 C700.7,679.2 702.8,679.7 705.0,678.0 C707.2,676.3 709.4,675.1 711.7,674.0 C714.1,672.9 715.2,671.5 719.1,671.1 C723.0,670.7 730.6,670.9 735.4,671.8 C740.2,672.6 743.6,674.5 748.0,676.2 C752.4,677.9 756.7,679.7 762.0,681.8 C767.3,683.9 773.3,685.4 780.0,688.8 C786.7,692.2 794.7,698.3 802.0,702.0 C809.3,705.7 816.7,707.5 824.0,710.8 C831.3,714.1 838.7,718.9 846.0,721.8 C853.3,724.7 860.7,725.8 868.0,728.4 C875.3,731.0 882.7,734.8 890.0,737.2 C897.3,739.6 904.7,740.9 912.0,742.7 C919.3,744.5 926.7,746.4 934.0,748.2 C941.3,750.0 948.7,751.9 956.0,753.7 C963.3,755.5 971.8,757.7 978.0,759.2 C984.2,760.7 990.8,762.0 993.4,762.5" fill="none" stroke="#ffbf0c" stroke-width="4.8" stroke-linejoin="round" stroke-dasharray="16.8 7"/>
<rect x="654.2" y="554.2" width="342.0" height="290.5" fill="none" stroke="#000" stroke-width="6"/>
<line x1="739.70" y1="554.2" x2="739.70" y2="568.2" stroke="#000" stroke-width="6"/>
<line x1="739.70" y1="844.7" x2="739.70" y2="830.7" stroke="#000" stroke-width="6"/>
<line x1="654.2" y1="772.08" x2="664.7" y2="772.08" stroke="#000" stroke-width="6"/>
<line x1="996.2" y1="772.08" x2="985.7" y2="772.08" stroke="#000" stroke-width="6"/>
<line x1="825.20" y1="554.2" x2="825.20" y2="568.2" stroke="#000" stroke-width="6"/>
<line x1="825.20" y1="844.7" x2="825.20" y2="830.7" stroke="#000" stroke-width="6"/>
<line x1="654.2" y1="699.45" x2="664.7" y2="699.45" stroke="#000" stroke-width="6"/>
<line x1="996.2" y1="699.45" x2="985.7" y2="699.45" stroke="#000" stroke-width="6"/>
<line x1="910.70" y1="554.2" x2="910.70" y2="568.2" stroke="#000" stroke-width="6"/>
<line x1="910.70" y1="844.7" x2="910.70" y2="830.7" stroke="#000" stroke-width="6"/>
<line x1="654.2" y1="626.83" x2="664.7" y2="626.83" stroke="#000" stroke-width="6"/>
<line x1="996.2" y1="626.83" x2="985.7" y2="626.83" stroke="#000" stroke-width="6"/>
<text transform="translate(629.20,856.30)" font-family="Liberation Serif" font-size="32">0</text>
<text transform="translate(629.20,711.05)" font-family="Liberation Serif" font-size="32">6</text>
<text transform="translate(613.20,565.80)" font-family="Liberation Serif" font-size="32">12</text>
<text transform="translate(646.20,884.20)" font-family="Liberation Serif" font-size="32">0</text>
<text transform="translate(805.57,884.20) scale(0.9342,1.0000)" font-family="Liberation Serif" font-size="32">0.5</text>
<text transform="translate(989.00,884.20)" font-family="Liberation Serif" font-size="32">1</text>
<text transform="translate(802.33,921.20) scale(1.1667,1.0000)" font-family="Liberation Serif" font-size="32" font-style="italic">t</text>
<text transform="translate(828.11,921.20) scale(0.8889,1.1500)" font-family="Liberation Serif" font-size="32">(</text>
<text transform="translate(837.95,921.20) scale(1.0455,1.0000)" font-family="Liberation Serif" font-size="32">s</text>
<text transform="translate(852.61,921.20) scale(0.8889,1.1500)" font-family="Liberation Serif" font-size="32">)</text>
<text transform="translate(600.70,800.27) rotate(-90) scale(1.0667,1.0000)" font-family="Liberation Serif" font-size="32" font-style="italic">d</text>
<text transform="translate(605.50,782.70) rotate(-90) scale(1.0818,1.0800)" font-family="Liberation Serif" font-size="22" font-style="italic">ϕ</text>
<text transform="translate(608.80,767.10) rotate(-90) scale(1.0667,1.0000)" font-family="Liberation Serif" font-size="19.5">0</text>
<text transform="translate(600.70,751.51) rotate(-90) scale(0.9111,1.1500)" font-family="Liberation Serif" font-size="32">(</text>
<text transform="translate(600.70,741.78) rotate(-90) scale(1.1778,1.0000)" font-family="Liberation Serif" font-size="32" font-style="italic">t</text>
<text transform="translate(600.70,727.61) rotate(-90) scale(0.8111,1.1500)" font-family="Liberation Serif" font-size="32">)</text>
<text transform="translate(600.70,703.01) rotate(-90) scale(0.9111,1.1500)" font-family="Liberation Serif" font-size="32">(</text>
<text transform="translate(600.70,692.00) rotate(-90) scale(1.0800,1.0000)" font-family="Liberation Serif" font-size="32">mm</text>
<text transform="translate(600.70,626.95) rotate(-90) scale(0.9545,1.0000)" font-family="Liberation Serif" font-size="32">s</text>
<text transform="translate(588.00,613.33) rotate(-90) scale(1.4273,1.0000)" font-family="Liberation Serif" font-size="22">−</text>
<text transform="translate(588.00,593.83) rotate(-90) scale(1.0625,1.0000)" font-family="Liberation Serif" font-size="22">1</text>
<text transform="translate(600.70,579.09) rotate(-90) scale(0.8889,1.1500)" font-family="Liberation Serif" font-size="32">)</text>
<circle cx="274.6" cy="1190" r="42.15" fill="none" stroke="rgba(0,0,0,0.06)" stroke-width="4.3"/>
<circle cx="274.6" cy="1190" r="84.30" fill="none" stroke="rgba(0,0,0,0.06)" stroke-width="4.3"/>
<circle cx="274.6" cy="1190" r="126.45" fill="none" stroke="rgba(0,0,0,0.06)" stroke-width="4.3"/>
<circle cx="274.6" cy="1190" r="168.60" fill="none" stroke="rgba(0,0,0,0.06)" stroke-width="4.3"/>
<line x1="274.6" y1="1190" x2="443.20" y2="1190.00" stroke="rgba(0,0,0,0.06)" stroke-width="4.3"/>
<line x1="274.6" y1="1190" x2="393.82" y2="1070.78" stroke="rgba(0,0,0,0.06)" stroke-width="4.3"/>
<line x1="274.6" y1="1190" x2="274.60" y2="1021.40" stroke="rgba(0,0,0,0.06)" stroke-width="4.3"/>
<line x1="274.6" y1="1190" x2="155.38" y2="1070.78" stroke="rgba(0,0,0,0.06)" stroke-width="4.3"/>
<line x1="274.6" y1="1190" x2="106.00" y2="1190.00" stroke="rgba(0,0,0,0.06)" stroke-width="4.3"/>
<line x1="274.6" y1="1190" x2="155.38" y2="1309.22" stroke="rgba(0,0,0,0.06)" stroke-width="4.3"/>
<line x1="274.6" y1="1190" x2="274.60" y2="1358.60" stroke="rgba(0,0,0,0.06)" stroke-width="4.3"/>
<line x1="274.6" y1="1190" x2="393.82" y2="1309.22" stroke="rgba(0,0,0,0.06)" stroke-width="4.3"/>
<path d="M121.9,1184.8 L122.1,1183.4 L122.4,1181.3 L122.8,1179.1 L122.7,1177.5 L123.2,1176.3 L123.2,1174.6 L123.6,1172.1 L123.7,1170.7 L124.0,1168.6 L124.5,1166.7 L125.4,1164.3 L125.9,1162.6 L126.5,1160.5 L126.8,1159.0 L127.9,1156.9 L128.3,1154.7 L129.4,1153.9 L130.0,1151.2 L130.6,1150.0 L131.2,1147.8 L132.2,1147.0 L132.8,1144.8 L134.0,1142.8 L134.5,1141.0 L135.8,1139.6 L136.1,1138.0 L137.1,1136.8 L137.9,1134.5 L138.7,1133.2 L139.8,1131.3 L141.0,1130.0 L142.3,1127.8 L142.9,1126.4 L144.1,1124.9 L145.2,1122.4 L146.3,1121.6 L147.6,1119.8 L148.7,1117.6 L149.7,1117.0 L150.8,1115.5 L152.4,1114.0 L153.3,1112.2 L154.7,1111.0 L155.5,1109.7 L156.8,1108.1 L158.3,1107.7 L159.2,1106.2 L160.9,1104.9 L162.5,1104.8 L164.1,1103.3 L166.2,1102.9 L168.0,1102.4 L169.4,1101.9 L171.3,1100.7 L173.0,1099.7 L174.4,1099.3 L176.2,1098.6 L177.8,1097.1 L179.8,1096.1 L181.3,1095.9 L183.1,1095.1 L185.0,1093.9 L186.6,1093.6 L188.8,1093.2 L190.7,1092.4 L192.8,1091.4 L194.8,1091.4 L196.6,1091.9 L199.0,1091.0 L200.4,1090.9 L202.8,1091.0 L204.5,1091.2 L206.3,1091.9 L208.3,1091.8 L210.2,1091.5 L211.9,1091.8 L214.2,1091.1 L216.0,1090.9 L218.6,1090.2 L220.4,1089.7 L222.2,1089.9 L224.3,1089.7 L226.2,1089.3 L228.3,1089.3 L229.9,1089.5 L231.9,1090.0 L233.6,1089.5 L235.7,1090.0 L237.5,1090.2 L239.6,1089.4 L241.7,1088.9 L243.6,1089.1 L246.2,1088.8 L247.8,1088.9 L249.6,1088.8 L251.8,1088.9 L253.4,1089.4 L255.6,1090.1 L257.5,1090.1 L259.4,1090.2 L261.3,1090.2 L263.0,1091.0 L265.3,1090.2 L267.4,1090.3 L270.2,1089.9 L272.0,1089.8 L273.9,1088.8 L275.4,1088.7 L277.6,1088.2 L279.2,1087.8 L281.1,1086.9 L283.2,1086.3 L285.1,1086.2 L287.2,1085.9 L288.8,1085.0 L290.8,1085.0 L292.9,1084.9 L294.6,1083.9 L296.2,1084.5 L298.5,1083.6 L300.3,1083.2 L302.3,1083.1 L304.2,1083.4 L306.0,1082.8 L308.0,1083.2 L309.7,1082.5 L311.5,1082.8 L313.4,1082.6 L315.7,1082.4 L317.2,1082.2 L319.1,1081.9 L321.0,1082.3 L323.2,1082.4 L324.8,1082.6 L326.6,1083.9 L328.9,1084.0 L330.3,1084.2 L332.4,1084.5 L334.5,1084.3 L336.0,1085.0 L337.8,1085.6 L339.8,1085.0 L341.6,1085.8 L343.9,1086.1 L345.5,1086.5 L347.6,1086.2 L349.5,1087.0 L351.3,1087.2 L353.1,1087.1 L355.0,1087.3 L356.7,1087.0 L358.7,1087.4 L360.7,1088.2 L362.6,1088.2 L364.5,1088.0 L366.4,1088.6 L368.1,1088.2 L370.3,1088.4 L371.8,1088.8 L373.9,1088.9 L375.6,1090.1 L377.1,1090.7 L378.5,1091.1 L380.5,1091.9 L382.4,1092.9 L384.1,1092.8 L385.8,1093.3 L387.1,1094.7 L389.0,1094.4 L390.7,1095.4 L392.2,1096.7 L393.7,1097.5 L395.2,1099.4 L396.4,1099.6 L398.1,1101.0 L399.7,1101.8 L401.2,1103.5 L402.3,1103.7 L404.1,1105.2 L405.1,1106.5 L406.6,1108.3 L407.6,1109.4 L408.8,1110.4 L410.4,1111.8 L411.5,1113.0 L412.9,1113.8 L413.5,1116.1 L414.7,1117.7 L415.9,1119.4 L416.7,1121.4 L417.6,1123.0 L418.5,1125.0 L419.8,1126.2 L420.3,1127.9 L420.5,1130.0 L421.4,1132.7 L421.8,1133.9 L422.7,1136.6 L423.1,1137.7 L423.6,1140.1 L423.7,1141.5 L424.5,1143.7 L424.7,1146.0 L425.2,1147.6 L425.4,1149.3 L425.9,1151.7 L426.6,1153.3 L426.6,1155.7 L427.2,1156.7 L427.2,1158.8 L427.6,1161.4 L427.8,1163.0 L428.1,1164.5 L428.5,1166.7 L428.4,1168.6 L428.7,1170.7 L428.9,1172.8 L428.7,1173.8 L428.8,1176.5 L428.6,1178.1 L428.4,1180.1 L428.5,1182.2 L428.1,1183.5 L427.8,1185.6 L427.8,1188.2 L427.8,1189.2 L427.8,1191.2 L427.3,1193.2 L427.2,1195.6 L427.2,1197.0 L426.6,1199.1 L426.4,1200.5 L426.5,1202.9 L426.3,1205.2 L425.8,1207.0 L425.8,1209.1 L425.3,1210.7 L424.8,1213.1 L424.4,1214.8 L423.7,1217.0 L423.3,1218.7 L422.8,1220.9 L422.4,1222.7 L421.8,1223.8 L421.0,1225.7 L420.2,1227.0 L419.6,1229.1 L419.4,1230.5 L418.3,1232.5 L417.9,1233.8 L417.0,1236.0 L415.8,1237.4 L415.0,1239.7 L414.1,1241.4 L413.1,1242.3 L412.2,1244.0 L410.9,1246.2 L409.8,1248.0 L409.0,1249.7 L408.1,1250.9 L406.8,1251.9 L406.0,1253.7 L405.0,1254.8 L403.8,1257.0 L402.4,1258.2 L401.5,1259.6 L400.4,1260.7 L399.4,1262.7 L397.8,1263.9 L397.1,1265.7 L395.7,1266.3 L394.8,1268.2 L393.5,1269.9 L392.2,1271.3 L391.0,1271.4 L389.3,1273.3 L387.4,1274.1 L385.8,1275.1 L383.6,1276.1 L382.2,1276.6 L380.3,1277.9 L378.9,1279.1 L377.3,1278.9 L375.2,1280.6 L373.7,1280.7 L372.0,1281.4 L370.2,1282.9 L368.5,1283.4 L366.8,1284.6 L364.9,1284.4 L362.7,1285.5 L360.9,1285.0 L358.8,1286.0 L356.9,1286.8 L355.1,1287.3 L353.1,1287.3 L351.0,1287.0 L349.1,1287.6 L347.2,1287.1 L345.4,1287.3 L343.9,1287.8 L341.9,1288.0 L339.7,1287.5 L338.1,1288.2 L336.2,1287.9 L334.0,1288.2 L332.4,1287.7 L330.7,1288.5 L328.3,1288.5 L326.9,1288.4 L324.9,1288.3 L322.7,1288.7 L320.8,1289.3 L319.1,1288.7 L317.5,1289.4 L315.1,1288.9 L313.7,1288.9 L311.3,1289.2 L309.9,1289.7 L307.5,1289.1 L305.9,1289.6 L304.1,1289.3 L302.2,1289.2 L300.1,1289.0 L298.6,1289.5 L296.4,1289.5 L294.6,1289.1 L292.4,1289.1 L290.7,1288.9 L288.8,1288.5 L287.1,1288.9 L285.3,1289.0 L283.4,1288.7 L281.2,1288.7 L279.8,1289.9 L277.7,1289.2 L275.8,1289.9 L274.0,1290.1 L271.8,1290.7 L269.9,1291.6 L268.5,1291.3 L266.2,1292.6 L264.2,1292.5 L262.3,1293.7 L260.7,1294.0 L258.6,1294.3 L256.5,1294.6 L254.7,1295.9 L252.6,1295.8 L250.7,1296.3 L248.7,1295.6 L246.8,1296.7 L245.1,1295.9 L242.9,1296.3 L241.4,1297.2 L239.5,1297.4 L237.6,1297.3 L235.7,1297.5 L233.7,1296.8 L231.8,1296.8 L230.1,1297.3 L228.3,1296.5 L226.1,1297.0 L224.2,1296.6 L222.3,1296.0 L220.3,1296.8 L218.8,1295.7 L216.7,1296.5 L214.8,1295.6 L212.9,1295.4 L211.3,1295.0 L209.1,1295.5 L207.4,1295.3 L205.4,1294.5 L203.3,1294.3 L201.4,1294.1 L199.9,1294.0 L198.0,1293.7 L195.8,1293.6 L194.1,1293.7 L192.5,1293.3 L190.3,1293.4 L188.8,1292.6 L186.5,1292.9 L184.8,1292.8 L183.1,1291.7 L181.2,1291.0 L179.5,1291.0 L177.5,1290.8 L175.3,1290.3 L173.6,1289.2 L171.7,1288.5 L170.1,1288.2 L167.8,1287.3 L165.9,1287.3 L164.4,1286.2 L163.1,1284.6 L161.8,1284.0 L159.9,1282.5 L158.8,1280.8 L156.8,1280.3 L155.7,1279.1 L154.1,1277.9 L152.3,1276.6 L151.1,1275.2 L149.7,1274.4 L148.5,1272.8 L147.6,1271.3 L146.3,1270.9 L144.6,1269.1 L143.6,1268.3 L142.2,1266.1 L141.2,1264.6 L140.2,1263.5 L139.3,1261.3 L137.9,1260.2 L137.1,1258.3 L135.9,1256.4 L135.0,1254.3 L133.7,1253.1 L133.3,1251.1 L132.6,1249.6 L131.5,1247.5 L130.9,1246.4 L130.2,1244.3 L129.2,1243.3 L129.0,1240.9 L128.3,1239.3 L127.6,1237.0 L127.0,1235.4 L126.6,1233.4 L126.2,1231.0 L125.9,1229.9 L125.4,1227.7 L125.0,1225.3 L124.4,1223.3 L123.6,1221.7 L123.1,1220.0 L122.3,1217.6 L122.0,1215.4 L121.8,1214.1 L121.9,1211.6 L121.7,1210.0 L121.3,1207.4 L121.3,1205.7 L121.4,1204.5 L121.0,1202.1 L121.0,1199.8 L121.2,1198.7 L121.5,1196.6 L121.5,1194.2 L121.3,1192.9 L121.6,1190.8 L121.9,1188.5 L121.7,1187.0 L121.8,1185.0" fill="none" stroke="#0000ff" stroke-width="3.7" stroke-linejoin="round"/>
<path d="M202.7,1195.3 L202.8,1193.0 L202.5,1191.7 L202.5,1190.1 L202.5,1188.0 L202.3,1185.7 L202.0,1184.2 L201.7,1182.4 L201.7,1180.1 L201.9,1178.8 L201.7,1176.5 L201.5,1174.7 L201.6,1172.6 L201.4,1171.5 L201.4,1168.9 L201.1,1167.1 L201.1,1165.4 L200.7,1163.5 L201.1,1161.9 L201.0,1159.4 L201.1,1157.5 L201.3,1156.2 L201.3,1154.3 L201.6,1152.0 L201.7,1150.7 L202.0,1148.5 L201.7,1146.6 L202.5,1144.8 L202.8,1142.3 L203.4,1140.8 L203.6,1138.9 L204.3,1136.5 L205.0,1135.2 L205.1,1132.7 L206.6,1131.2 L207.4,1130.0 L208.4,1127.5 L209.7,1125.7 L211.0,1124.9 L212.1,1123.3 L213.7,1121.5 L215.2,1120.4 L217.0,1119.4 L218.7,1118.4 L220.5,1116.8 L222.2,1115.9 L223.8,1115.2 L225.4,1114.0 L227.3,1113.6 L228.8,1112.9 L230.8,1112.3 L232.4,1110.6 L234.3,1110.0 L235.7,1109.4 L237.6,1108.4 L239.1,1108.6 L241.1,1107.5 L242.7,1107.0 L244.3,1106.3 L246.2,1105.5 L248.2,1105.6 L250.5,1105.0 L252.3,1104.8 L254.2,1103.6 L256.2,1104.2 L258.7,1104.4 L260.7,1105.2 L262.5,1105.8 L264.4,1106.0 L266.2,1105.5 L268.5,1105.9 L270.4,1105.4 L272.2,1105.5 L273.9,1105.9 L276.0,1105.2 L278.1,1105.5 L279.8,1105.7 L282.1,1105.8 L284.0,1105.3 L285.9,1104.6 L288.0,1105.1 L289.7,1104.6 L291.7,1104.8 L293.7,1104.6 L295.9,1104.5 L297.3,1104.1 L299.4,1104.9 L301.4,1105.3 L303.1,1105.0 L305.2,1105.2 L306.7,1105.7 L308.6,1106.7 L310.4,1106.7 L312.5,1107.0 L314.0,1108.3 L315.8,1109.4 L317.9,1109.4 L319.4,1111.1 L321.0,1112.0 L322.6,1112.8 L324.2,1114.6 L325.9,1115.7 L327.7,1116.9 L329.4,1118.2 L331.3,1118.7 L332.7,1119.8 L334.4,1121.5 L336.0,1123.1 L337.3,1123.5 L338.2,1125.0 L339.6,1126.4 L340.5,1128.4 L341.7,1129.3 L343.3,1131.6 L343.4,1133.3 L344.4,1135.5 L344.9,1137.6 L345.4,1139.2 L345.8,1140.7 L346.4,1143.0 L346.5,1145.6 L347.0,1146.6 L347.2,1148.7 L347.5,1150.3 L348.0,1152.4 L348.3,1154.1 L348.8,1156.7 L348.8,1158.3 L349.2,1160.7 L349.0,1162.1 L348.6,1164.2 L348.4,1165.9 L348.1,1167.9 L347.9,1169.6 L347.6,1171.3 L347.4,1173.1 L347.5,1175.1 L347.0,1178.0 L347.1,1179.6 L347.0,1181.8 L346.8,1183.3 L346.5,1185.4 L346.3,1186.8 L347.0,1188.7 L346.9,1190.8 L347.2,1192.8 L347.4,1194.2 L347.9,1196.4 L347.9,1198.5 L348.6,1200.2 L348.7,1202.4 L348.7,1204.7 L348.7,1206.7 L349.0,1208.0 L349.0,1210.8 L349.1,1212.2 L348.8,1214.1 L348.5,1215.8 L348.1,1217.8 L347.9,1219.8 L347.8,1221.9 L347.5,1224.6 L347.4,1226.3 L347.1,1228.1 L346.9,1229.6 L346.6,1232.1 L346.2,1233.7 L346.0,1236.3 L345.8,1237.7 L345.3,1239.8 L344.3,1241.4 L343.6,1243.2 L343.1,1245.0 L342.6,1245.9 L341.8,1248.2 L341.2,1249.2 L340.5,1251.2 L339.2,1252.7 L338.0,1253.7 L336.8,1255.7 L335.5,1256.5 L334.7,1257.7 L332.9,1258.8 L331.1,1260.6 L329.6,1261.3 L327.7,1262.3 L325.9,1264.2 L324.6,1265.4 L322.6,1265.4 L321.2,1266.9 L319.5,1267.7 L317.9,1268.9 L316.0,1269.5 L314.0,1271.0 L312.6,1272.2 L310.5,1271.9 L308.5,1272.3 L306.5,1272.8 L304.9,1274.1 L302.9,1273.6 L301.1,1275.1 L298.7,1275.0 L296.9,1274.9 L295.1,1274.9 L293.2,1275.0 L291.4,1274.1 L289.4,1273.9 L287.5,1273.8 L285.7,1273.8 L283.7,1273.1 L281.5,1273.9 L279.5,1273.9 L277.6,1272.9 L275.6,1273.7 L273.8,1273.6 L271.7,1273.9 L270.2,1273.4 L268.4,1274.4 L266.2,1274.2 L264.2,1274.2 L262.4,1274.9 L260.6,1275.5 L258.6,1275.1 L256.3,1275.4 L254.4,1276.1 L252.6,1275.5 L250.9,1275.2 L248.6,1274.8 L246.9,1275.0 L245.1,1274.5 L242.8,1274.5 L241.3,1273.3 L239.0,1273.6 L237.4,1272.9 L236.0,1271.4 L234.2,1271.3 L232.2,1269.7 L230.8,1269.3 L228.9,1268.6 L227.1,1267.8 L225.9,1266.6 L224.4,1265.2 L222.7,1264.1 L221.3,1262.8 L220.0,1262.1 L218.1,1261.0 L216.8,1259.6 L215.3,1257.6 L214.3,1256.7 L212.8,1254.8 L211.9,1253.4 L210.4,1252.7 L209.4,1251.2 L208.4,1248.8 L206.7,1248.1 L206.4,1245.4 L206.1,1244.6 L205.1,1242.3 L204.9,1240.8 L204.0,1238.2 L203.6,1236.5 L203.3,1234.7 L202.8,1232.5 L202.1,1230.2 L201.8,1229.2 L201.7,1226.6 L201.5,1224.4 L200.9,1223.2 L200.4,1221.4 L200.2,1219.3 L200.3,1217.2 L200.8,1215.7 L201.4,1213.7 L201.5,1211.5 L202.0,1209.8 L202.5,1207.9 L202.5,1205.5 L203.3,1204.2 L203.4,1201.6 L203.5,1199.8 L203.1,1197.3 L202.7,1194.8" fill="none" stroke="#0000ff" stroke-width="3.7" stroke-linejoin="round"/>
<path d="M114.3,1195.0 C114.4,1191.8 114.1,1181.3 115.1,1175.5 C116.1,1169.7 118.2,1165.6 120.2,1160.2 C122.2,1154.8 124.5,1148.3 127.0,1143.2 C129.6,1138.1 132.7,1133.6 135.5,1129.6 C138.3,1125.6 140.6,1123.1 144.0,1119.4 C147.4,1115.7 151.7,1111.2 155.9,1107.5 C160.2,1103.8 164.4,1100.4 169.5,1097.3 C174.6,1094.2 180.8,1091.3 186.5,1088.8 C192.2,1086.2 197.8,1084.0 203.5,1082.0 C209.2,1080.0 214.8,1077.9 220.5,1076.9 C226.2,1075.9 231.8,1076.1 237.5,1076.1 C243.2,1076.1 248.5,1076.5 254.5,1076.9 C260.5,1077.3 268.0,1078.4 273.4,1078.6 C278.8,1078.8 281.9,1077.5 287.0,1077.8 C292.1,1078.1 298.3,1079.6 304.0,1080.3 C309.7,1081.0 315.3,1081.3 321.0,1082.0 C326.7,1082.7 332.3,1083.5 338.0,1084.6 C343.7,1085.7 349.3,1087.0 355.0,1088.8 C360.7,1090.6 366.3,1093.0 372.0,1095.6 C377.7,1098.1 383.9,1101.0 389.0,1104.1 C394.1,1107.2 398.4,1110.6 402.6,1114.3 C406.9,1118.0 411.1,1122.0 414.5,1126.2 C417.9,1130.5 420.4,1135.0 423.0,1139.8 C425.6,1144.6 428.1,1150.0 429.8,1155.1 C431.5,1160.2 432.4,1165.6 433.2,1170.4 C434.0,1175.2 434.7,1179.9 434.9,1184.0 C435.1,1188.1 434.7,1192.0 434.4,1195.0 C434.1,1198.0 434.2,1198.0 433.2,1202.0 C432.1,1206.0 430.1,1213.3 428.1,1219.0 C426.1,1224.7 423.9,1230.9 421.3,1236.0 C418.8,1241.1 415.9,1245.1 412.8,1249.6 C409.7,1254.1 406.6,1259.0 402.6,1263.2 C398.6,1267.5 394.1,1271.4 389.0,1275.1 C383.9,1278.8 377.7,1282.2 372.0,1285.3 C366.3,1288.4 360.7,1291.5 355.0,1293.8 C349.3,1296.1 343.7,1297.5 338.0,1298.9 C332.3,1300.3 326.7,1301.6 321.0,1302.3 C315.3,1303.0 309.7,1303.3 304.0,1303.2 C298.3,1303.1 291.9,1301.8 287.0,1301.5 C282.1,1301.2 278.9,1301.5 274.9,1301.5 C270.9,1301.5 267.2,1301.7 263.0,1301.5 C258.8,1301.3 255.1,1301.2 249.4,1300.6 C243.7,1300.0 235.8,1299.0 229.0,1298.0 C222.2,1297.0 214.8,1296.0 208.6,1294.7 C202.4,1293.4 197.3,1292.2 191.6,1290.4 C185.9,1288.6 180.3,1286.4 174.6,1283.6 C168.9,1280.8 162.7,1277.1 157.6,1273.4 C152.5,1269.7 148.0,1265.5 144.0,1261.5 C140.0,1257.5 136.9,1253.8 133.8,1249.6 C130.7,1245.3 127.8,1241.1 125.3,1236.0 C122.8,1230.9 120.2,1224.7 118.5,1219.0 C116.8,1213.3 115.8,1206.0 115.1,1202.0 C114.4,1198.0 114.4,1196.2 114.3,1195.0" fill="none" stroke="#ff0000" stroke-width="3.5" stroke-dasharray="11 5.4"/>
<path d="M191.6,1195.0 C191.6,1191.8 191.0,1181.3 191.6,1175.5 C192.2,1169.7 193.6,1164.7 195.0,1160.2 C196.4,1155.7 197.8,1152.5 200.1,1148.3 C202.4,1144.0 205.2,1138.7 208.6,1134.7 C212.0,1130.7 216.2,1127.3 220.5,1124.5 C224.8,1121.7 229.3,1119.7 234.1,1117.7 C238.9,1115.7 244.6,1113.9 249.4,1112.6 C254.2,1111.3 258.5,1110.6 263.0,1110.0 C267.5,1109.4 272.6,1109.2 276.6,1109.2 C280.6,1109.2 282.4,1109.2 287.0,1110.0 C291.6,1110.8 298.3,1112.5 304.0,1114.3 C309.7,1116.1 315.9,1118.5 321.0,1121.1 C326.1,1123.6 330.6,1126.2 334.6,1129.6 C338.6,1133.0 342.0,1137.0 344.8,1141.5 C347.6,1146.0 349.8,1151.7 351.6,1156.8 C353.5,1161.9 354.9,1167.0 355.9,1172.1 C356.9,1177.2 357.5,1183.0 357.6,1187.4 C357.7,1191.8 357.3,1194.5 356.7,1198.6 C356.1,1202.7 355.3,1207.4 354.2,1212.2 C353.1,1217.0 351.8,1223.0 349.9,1227.5 C348.0,1232.0 345.9,1235.7 343.1,1239.4 C340.3,1243.1 336.6,1246.5 332.9,1249.6 C329.2,1252.7 325.2,1255.7 321.0,1258.1 C316.8,1260.5 312.5,1262.5 307.4,1264.1 C302.3,1265.7 295.8,1266.7 290.4,1267.5 C285.0,1268.3 279.7,1268.9 275.1,1269.2 C270.5,1269.5 267.9,1269.8 263.0,1269.2 C258.1,1268.6 251.7,1267.7 246.0,1265.8 C240.3,1263.9 234.1,1261.1 229.0,1258.1 C223.9,1255.1 219.4,1251.9 215.4,1247.9 C211.4,1243.9 208.0,1239.1 205.2,1234.3 C202.4,1229.5 200.4,1224.4 198.4,1219.0 C196.4,1213.6 194.4,1206.0 193.3,1202.0 C192.2,1198.0 191.9,1196.2 191.6,1195.0" fill="none" stroke="#ff0000" stroke-width="3.5" stroke-dasharray="11 5.4"/>
<circle cx="274.6" cy="1190" r="168.6" fill="none" stroke="#000" stroke-width="3.6"/>
<line x1="443.20" y1="1190.00" x2="447.70" y2="1190.00" stroke="#000" stroke-width="3.6"/>
<line x1="393.82" y1="1070.78" x2="397.00" y2="1067.60" stroke="#000" stroke-width="3.6"/>
<line x1="274.60" y1="1021.40" x2="274.60" y2="1016.90" stroke="#000" stroke-width="3.6"/>
<line x1="155.38" y1="1070.78" x2="152.20" y2="1067.60" stroke="#000" stroke-width="3.6"/>
<line x1="106.00" y1="1190.00" x2="101.50" y2="1190.00" stroke="#000" stroke-width="3.6"/>
<line x1="155.38" y1="1309.22" x2="152.20" y2="1312.40" stroke="#000" stroke-width="3.6"/>
<line x1="274.60" y1="1358.60" x2="274.60" y2="1363.10" stroke="#000" stroke-width="3.6"/>
<line x1="393.82" y1="1309.22" x2="397.00" y2="1312.40" stroke="#000" stroke-width="3.6"/>
<line x1="274.6" y1="1190" x2="485" y2="1190" stroke="#000" stroke-width="4"/>
<path d="M499,1190 L480,1184.6 L483.5,1190 L480,1195.4 Z" fill="#000"/>
<line x1="316.75" y1="1190" x2="316.75" y2="1194.2" stroke="#000" stroke-width="2.8"/>
<line x1="358.90" y1="1190" x2="358.90" y2="1194.2" stroke="#000" stroke-width="2.8"/>
<line x1="401.05" y1="1190" x2="401.05" y2="1194.2" stroke="#000" stroke-width="2.8"/>
<circle cx="274.6" cy="1190" r="5.0" fill="#000"/>
<text transform="translate(274.60,1218.00)" font-family="Liberation Serif" font-size="27">0</text>
<text transform="translate(316.75,1218.00)" font-family="Liberation Serif" font-size="27">5</text>
<text transform="translate(357.90,1218.00)" font-family="Liberation Serif" font-size="27">10</text>
<text transform="translate(400.05,1218.00)" font-family="Liberation Serif" font-size="27">15</text>
<text transform="translate(443.20,1218.00)" font-family="Liberation Serif" font-size="27">20</text>
<text transform="translate(257.00,999.30) scale(1.0303,1.0000)" font-family="Liberation Serif" font-size="27"><tspan font-style="italic">π</tspan>/2</text>
<text transform="translate(249.77,1399.80) scale(1.0261,1.0000)" font-family="Liberation Serif" font-size="27">3<tspan font-style="italic">π</tspan>/2</text>
<text transform="translate(101.59,1057.80) scale(1.0085,1.0000)" font-family="Liberation Serif" font-size="27">3<tspan font-style="italic">π</tspan>/4</text>
<text transform="translate(400.00,1057.80) scale(1.0353,1.0000)" font-family="Liberation Serif" font-size="27"><tspan font-style="italic">π</tspan>/4</text>
<text transform="translate(102.51,1341.00) scale(0.9894,1.0000)" font-family="Liberation Serif" font-size="27">5<tspan font-style="italic">π</tspan>/4</text>
<text transform="translate(398.10,1340.80) scale(0.9979,1.0000)" font-family="Liberation Serif" font-size="27">7<tspan font-style="italic">π</tspan>/4</text>
<text transform="translate(76.00,1199.60)" font-family="Liberation Serif" font-size="27" font-style="italic">π</text>
<text transform="translate(480.82,1160.00) scale(1.1846,1.0000)" font-family="Liberation Serif" font-size="27" font-style="italic">d</text>
<text transform="translate(498.00,1166.80) scale(1.2000,1.0000)" font-family="Liberation Serif" font-size="19" font-style="italic">ϕ</text>
<text transform="translate(510.70,1166.80) scale(1.1444,1.0000)" font-family="Liberation Serif" font-size="19">0</text>
<text transform="translate(445.16,1244.10) scale(1.1375,1.2000)" font-family="Liberation Serif" font-size="27">(</text>
<text transform="translate(456.50,1244.10) scale(1.1548,1.0000)" font-family="Liberation Serif" font-size="27">mm</text>
<text transform="translate(515.50,1244.10) scale(1.2000,1.0000)" font-family="Liberation Serif" font-size="27">s</text>
<text transform="translate(527.97,1233.60) scale(1.6333,1.0000)" font-family="Liberation Serif" font-size="19">−</text>
<text transform="translate(546.71,1233.60) scale(1.1429,1.0000)" font-family="Liberation Serif" font-size="19">1</text>
<text transform="translate(560.00,1244.10) scale(1.0000,1.2000)" font-family="Liberation Serif" font-size="27">)</text>
<text transform="translate(23.70,1239.70) rotate(-90) scale(0.9458,1.0000)" font-family="Liberation Serif" font-size="33">A</text>
<text transform="translate(25.10,1206.26) rotate(-90) scale(1.3563,0.8200)" font-family="Liberation Serif" font-size="33">=</text>
<text transform="translate(23.50,1181.33) rotate(-90) scale(1.0099,1.0000)" font-family="Liberation Serif" font-size="33">1.60g</text>
<path d="M654.5,1334.0 L655.5,1334.6 L657.2,1329.7 L657.8,1329.7 L657.7,1328.4 L658.0,1326.7 L658.3,1326.1 L658.7,1324.0 L659.4,1323.3 L659.3,1321.3 L659.9,1319.9 L660.1,1318.1 L660.8,1317.0 L661.1,1314.7 L661.6,1313.0 L661.7,1311.6 L662.3,1309.1 L662.6,1307.5 L663.2,1305.6 L663.4,1303.9 L663.8,1302.6 L664.3,1300.0 L664.6,1298.6 L665.3,1297.0 L665.4,1295.6 L666.0,1294.1 L666.2,1292.9 L666.8,1291.2 L667.0,1289.4 L667.7,1288.3 L668.1,1286.1 L668.4,1284.7 L668.8,1283.3 L669.2,1281.7 L669.3,1279.1 L669.7,1277.8 L670.2,1276.1 L670.7,1274.8 L671.3,1272.8 L671.6,1271.4 L672.2,1269.3 L672.5,1267.9 L672.8,1266.3 L673.3,1265.3 L673.5,1263.4 L673.7,1262.2 L674.1,1260.4 L674.6,1259.5 L675.2,1257.6 L675.4,1255.6 L676.1,1253.5 L676.3,1252.1 L677.1,1250.8 L677.2,1248.9 L677.4,1248.0 L677.9,1245.6 L678.5,1244.6 L678.7,1242.9 L679.0,1241.4 L679.6,1239.7 L680.0,1238.9 L680.6,1237.1 L680.8,1235.3 L681.2,1234.3 L681.7,1232.9 L682.1,1231.0 L682.6,1230.0 L682.9,1227.8 L683.2,1226.1 L683.9,1224.4 L684.1,1223.3 L684.5,1221.8 L685.3,1220.4 L685.5,1219.1 L685.7,1217.1 L686.5,1215.7 L686.6,1213.5 L687.1,1212.9 L687.7,1210.7 L688.1,1208.9 L688.5,1207.8 L689.2,1206.3 L690.0,1204.2 L690.2,1202.9 L690.6,1201.4 L691.6,1199.5 L692.1,1198.8 L692.5,1197.0 L693.0,1195.2 L693.9,1193.9 L694.2,1192.5 L695.3,1190.2 L695.9,1189.3 L696.4,1187.8 L696.9,1186.5 L697.6,1184.3 L698.4,1182.9 L699.4,1181.4 L699.9,1179.9 L700.7,1178.7 L701.2,1176.7 L701.8,1175.6 L702.8,1173.5 L703.5,1172.2 L703.8,1170.8 L704.7,1169.4 L705.7,1168.0 L706.2,1166.3 L706.8,1164.2 L707.9,1163.0 L708.3,1161.5 L709.3,1159.9 L710.1,1158.6 L710.8,1156.7 L711.6,1155.8 L712.3,1154.3 L712.9,1152.8 L713.5,1151.1 L714.5,1150.5 L715.2,1148.8 L716.1,1147.6 L716.7,1146.3 L717.3,1144.4 L718.4,1142.8 L719.2,1141.2 L720.1,1140.2 L720.8,1138.7 L721.5,1137.1 L722.2,1135.4 L723.1,1134.0 L723.9,1132.7 L725.0,1131.1 L725.6,1130.0 L726.7,1128.5 L727.6,1126.5 L728.1,1125.5 L729.4,1124.0 L730.2,1122.9 L730.9,1121.4 L732.0,1120.2 L733.1,1118.6 L733.7,1117.2 L734.7,1115.9 L735.7,1114.1 L736.8,1112.7 L737.8,1111.9 L738.7,1110.1 L739.9,1109.0 L740.6,1107.9 L741.6,1106.7 L742.8,1105.2 L743.5,1104.2 L744.9,1103.4 L746.0,1101.6 L747.1,1100.3 L748.2,1099.3 L749.6,1098.2 L750.8,1096.2 L752.1,1095.5 L753.3,1094.0 L754.6,1093.2 L755.7,1092.2 L756.9,1091.2 L757.8,1090.1 L759.5,1089.3 L760.7,1087.7 L762.1,1087.0 L763.0,1085.6 L764.6,1084.6 L765.8,1083.3 L767.3,1082.4 L768.3,1081.2 L769.9,1080.4 L771.2,1080.1 L772.5,1079.6 L774.1,1078.3 L775.6,1077.2 L777.2,1077.0 L778.8,1076.3 L780.5,1074.7 L782.2,1074.7 L784.0,1073.5 L785.3,1073.8 L786.9,1073.4 L788.5,1072.1 L790.6,1071.5 L792.1,1072.0 L794.2,1071.5 L795.8,1071.1 L797.5,1071.0 L799.2,1071.6 L801.1,1071.1 L802.7,1071.1 L804.1,1071.8 L805.9,1071.9 L807.6,1073.0 L809.4,1073.2 L810.7,1073.7 L811.9,1074.2 L813.9,1074.3 L815.2,1075.1 L816.2,1075.8 L817.8,1076.4 L820.2,1078.0 L821.2,1078.0 L822.2,1079.1 L823.9,1080.0 L825.2,1080.0 L826.7,1081.4 L828.6,1081.1 L830.1,1082.4 L831.9,1083.1 L833.3,1084.0 L834.9,1084.5 L836.7,1085.1 L837.9,1085.8 L839.4,1087.1 L840.8,1087.5 L842.5,1088.0 L843.9,1089.3 L845.5,1090.4 L847.2,1091.1 L848.4,1091.2 L849.8,1092.8 L851.3,1093.5 L853.2,1094.3 L854.3,1095.3 L856.2,1095.8 L857.4,1096.9 L858.6,1097.2 L860.1,1098.3 L861.5,1099.6 L862.8,1100.1 L864.3,1100.6 L865.6,1101.3 L867.2,1102.7 L868.3,1103.7 L869.9,1104.4 L871.2,1105.2 L872.7,1105.5 L874.2,1107.1 L875.6,1107.7 L876.7,1107.9 L878.0,1109.6 L879.7,1110.5 L881.3,1110.5 L882.3,1111.3 L883.7,1112.6 L885.5,1113.8 L886.8,1114.6 L888.3,1115.6 L889.2,1116.1 L890.6,1116.5 L891.9,1117.1 L893.7,1118.0 L894.9,1118.9 L896.6,1120.0 L898.0,1120.9 L899.3,1121.8 L900.9,1122.5 L902.2,1123.3 L903.7,1124.2 L904.9,1124.1 L906.2,1125.6 L907.5,1126.9 L909.2,1128.1 L910.1,1128.5 L911.6,1129.6 L912.8,1131.2 L914.0,1132.0 L915.6,1133.4 L917.1,1135.2 L918.2,1136.1 L919.3,1137.2 L920.7,1138.4 L922.1,1139.8 L923.6,1140.8 L925.3,1140.9 L926.8,1142.7 L928.2,1143.4 L929.2,1144.2 L930.8,1144.9 L932.5,1146.6 L933.5,1147.4 L935.0,1147.9 L936.7,1149.2 L938.0,1150.3 L939.3,1150.9 L941.0,1152.0 L942.5,1152.5 L943.6,1153.1 L945.2,1154.1 L946.6,1155.3 L948.1,1156.4 L949.8,1157.4 L950.9,1157.7 L952.7,1159.0 L954.0,1159.9 L955.2,1160.4 L956.8,1161.5 L958.3,1161.6 L959.7,1163.3 L961.1,1163.7 L962.7,1164.7 L964.2,1165.5 L965.4,1166.0 L966.8,1166.4 L968.1,1167.9 L969.9,1168.7 L971.4,1169.1 L972.6,1169.6 L974.1,1170.4 L975.6,1170.8 L977.0,1171.9 L978.6,1172.8 L979.9,1172.7 L981.8,1174.3 L983.6,1175.1 L985.7,1175.6 L987.6,1176.5 L989.2,1177.3 L990.9,1177.8 L991.8,1178.3 L993.0,1178.7" fill="none" stroke="#1278dc" stroke-width="4.8" stroke-linejoin="round"/>
<path d="M654.5,1334.0 L654.8,1332.9 L655.0,1332.6 L654.9,1330.8 L655.0,1329.5 L655.2,1328.5 L655.8,1327.5 L655.9,1325.9 L656.2,1324.7 L656.3,1322.2 L656.8,1321.4 L656.8,1319.3 L657.4,1317.1 L657.6,1314.8 L658.0,1313.3 L658.4,1310.8 L659.1,1308.6 L659.2,1307.6 L659.6,1306.4 L659.5,1305.0 L660.1,1303.1 L660.1,1301.3 L660.4,1300.5 L660.9,1298.5 L660.8,1297.1 L661.3,1295.6 L661.5,1293.7 L661.9,1291.8 L662.1,1290.3 L662.2,1289.2 L662.8,1286.8 L663.2,1285.0 L663.1,1283.7 L663.5,1281.6 L663.8,1280.4 L664.3,1278.5 L664.5,1276.5 L664.9,1275.1 L665.0,1273.0 L665.7,1271.5 L665.7,1270.2 L666.3,1268.6 L666.3,1266.8 L666.9,1264.7 L666.8,1263.9 L667.5,1262.1 L667.7,1260.4 L667.8,1258.8 L668.0,1257.3 L668.6,1255.0 L668.9,1253.1 L669.0,1251.9 L669.8,1249.7 L670.0,1248.4 L670.2,1246.8 L670.6,1245.6 L671.0,1243.6 L671.0,1241.8 L671.3,1240.9 L671.7,1239.6 L672.1,1238.1 L672.3,1236.2 L672.5,1234.9 L673.1,1233.5 L673.2,1231.3 L673.9,1230.3 L674.0,1228.9 L674.5,1226.4 L674.9,1225.5 L675.2,1223.3 L675.7,1221.7 L676.3,1220.5 L676.3,1219.1 L676.8,1217.0 L677.7,1215.3 L677.9,1214.2 L678.3,1212.9 L679.0,1210.9 L679.0,1208.7 L679.8,1207.6 L680.1,1205.7 L680.7,1204.1 L681.2,1202.5 L681.3,1200.8 L682.2,1199.7 L682.6,1197.5 L682.7,1196.1 L683.2,1194.3 L684.0,1193.1 L684.4,1191.3 L684.8,1190.2 L685.3,1188.0 L685.5,1186.6 L686.0,1185.0 L686.5,1183.9 L686.9,1182.5 L687.2,1180.7 L687.9,1178.3 L688.2,1177.4 L688.5,1175.5 L689.2,1173.6 L689.5,1171.8 L690.2,1170.2 L690.2,1168.5 L690.9,1167.8 L691.3,1165.5 L691.8,1164.6 L691.9,1162.2 L692.5,1160.9 L692.8,1159.6 L693.1,1158.9 L694.0,1156.6 L694.4,1155.6 L694.5,1154.2 L695.0,1153.4 L695.9,1151.4 L696.4,1148.8 L697.1,1147.9 L697.3,1145.9 L698.1,1144.0 L699.0,1142.9 L699.3,1141.1 L700.0,1140.0 L700.7,1138.1 L701.3,1137.5 L702.2,1135.7 L702.4,1134.5 L703.2,1132.9 L704.2,1131.2 L705.0,1129.5 L705.5,1128.3 L706.5,1126.6 L707.1,1125.5 L708.2,1124.5 L708.7,1122.9 L709.7,1121.3 L710.5,1120.2 L711.4,1118.4 L712.1,1116.8 L713.0,1115.9 L713.8,1114.9 L714.8,1113.6 L715.7,1111.9 L717.0,1110.9 L717.8,1109.3 L718.8,1108.1 L719.5,1106.0 L720.9,1104.8 L721.6,1103.3 L722.7,1101.9 L723.5,1101.4 L724.5,1099.6 L725.5,1098.8 L726.9,1097.5 L728.2,1096.2 L729.7,1095.6 L731.0,1094.7 L732.5,1092.9 L733.5,1092.2 L734.8,1092.0 L736.2,1090.7 L738.0,1090.1 L739.3,1089.2 L741.0,1088.8 L742.3,1088.9 L744.2,1088.2 L745.9,1088.1 L747.1,1087.8 L748.8,1087.7 L750.6,1087.6 L752.5,1087.8 L754.3,1088.7 L756.2,1088.4 L758.0,1089.3 L759.2,1089.6 L760.9,1089.5 L762.5,1090.8 L764.1,1090.8 L765.6,1091.8 L767.4,1092.3 L769.3,1092.4 L770.8,1093.1 L772.2,1093.2 L774.1,1093.9 L775.6,1094.1 L777.2,1094.7 L779.0,1094.9 L780.2,1095.9 L782.1,1095.5 L783.7,1096.3 L785.0,1096.3 L786.9,1097.1 L788.6,1097.3 L790.1,1098.3 L791.7,1099.1 L793.0,1099.2 L794.6,1099.9 L796.4,1101.2 L797.9,1101.1 L799.4,1102.0 L801.3,1103.0 L803.0,1102.8 L804.6,1103.4 L806.0,1103.9 L807.8,1104.5 L809.2,1105.9 L811.1,1106.1 L812.4,1106.7 L814.2,1107.0 L815.7,1108.0 L817.0,1108.7 L819.0,1109.6 L820.4,1110.5 L821.9,1110.5 L823.7,1111.1 L825.0,1111.7 L826.5,1112.8 L828.1,1113.3 L829.5,1113.3 L831.2,1113.8 L832.4,1114.3 L834.1,1114.2 L835.9,1115.0 L838.2,1115.7 L839.3,1116.2 L840.9,1117.0 L842.3,1116.9 L843.9,1117.6 L845.6,1118.0 L847.6,1118.5 L849.3,1118.9 L850.8,1119.7 L852.4,1120.0 L854.3,1120.3 L856.1,1121.2 L857.5,1122.0 L858.9,1122.0 L860.4,1123.2 L862.0,1123.3 L863.6,1123.6 L865.2,1124.5 L866.5,1124.9 L868.1,1125.9 L869.6,1126.9 L871.2,1127.6 L872.3,1127.4 L873.8,1127.9 L875.5,1129.2 L877.1,1129.3 L878.7,1129.8 L880.0,1130.9 L881.4,1131.8 L882.9,1131.9 L884.7,1133.1 L886.1,1133.1 L887.7,1133.8 L888.8,1134.2 L890.7,1135.0 L892.2,1135.4 L893.6,1136.0 L895.2,1137.0 L896.7,1136.7 L898.3,1137.1 L900.0,1137.8 L901.7,1138.8 L903.5,1138.8 L904.9,1139.3 L906.5,1140.2 L908.3,1140.5 L910.2,1140.8 L911.8,1141.0 L913.4,1142.0 L915.0,1142.2 L916.7,1143.2 L918.3,1143.8 L920.0,1144.0 L921.8,1144.2 L923.4,1144.5 L925.0,1145.2 L926.6,1146.2 L928.2,1146.7 L929.6,1146.8 L931.4,1147.5 L933.0,1148.3 L934.5,1148.4 L936.0,1149.4 L937.5,1149.9 L939.1,1150.2 L940.8,1151.1 L942.6,1151.7 L943.7,1152.1 L945.3,1152.7 L946.6,1154.1 L948.2,1154.5 L949.4,1155.3 L950.7,1156.6 L952.2,1157.2 L953.5,1158.0 L955.3,1159.2 L956.9,1159.7 L958.1,1160.3 L959.8,1161.5 L961.0,1161.9 L962.6,1163.1 L964.0,1163.7 L965.4,1164.6 L967.1,1165.2 L968.7,1166.8 L970.3,1166.8 L971.6,1168.3 L973.1,1168.6 L974.8,1169.3 L976.6,1170.8 L978.2,1171.3 L979.7,1171.9 L981.4,1173.1 L983.5,1173.9 L985.2,1175.1 L986.9,1176.0 L988.1,1176.8 L989.9,1176.8 L991.0,1178.2 L992.2,1178.4 L993.0,1178.7" fill="none" stroke="#00aa00" stroke-width="4.8" stroke-linejoin="round"/>
<path d="M654.5,1334.0 L654.5,1332.9 L654.9,1332.6 L655.2,1331.1 L655.2,1329.7 L655.4,1328.3 L655.8,1327.2 L656.0,1325.8 L656.1,1323.8 L656.3,1322.3 L656.5,1320.7 L657.0,1319.2 L657.4,1317.2 L657.6,1315.0 L658.1,1312.6 L658.2,1310.5 L658.7,1308.2 L658.9,1307.1 L659.1,1305.5 L659.7,1304.8 L660.0,1302.7 L660.3,1302.1 L660.3,1300.6 L660.7,1298.7 L660.8,1297.3 L661.2,1295.0 L661.6,1293.7 L661.7,1291.7 L662.3,1289.9 L662.3,1288.9 L663.0,1286.5 L662.8,1285.4 L663.2,1283.1 L663.5,1281.9 L664.0,1279.4 L664.5,1277.9 L664.5,1276.2 L664.8,1274.5 L665.1,1273.1 L665.4,1270.9 L666.0,1269.3 L666.3,1268.4 L666.5,1266.3 L666.8,1264.7 L667.0,1263.5 L667.0,1261.7 L667.3,1260.7 L667.6,1259.2 L668.3,1256.9 L668.7,1255.3 L668.9,1252.7 L669.6,1251.2 L670.1,1249.3 L670.3,1246.5 L670.8,1245.5 L671.2,1243.4 L671.4,1241.6 L672.1,1239.8 L672.6,1238.2 L672.9,1236.5 L673.0,1235.7 L673.4,1233.7 L674.0,1232.8 L674.0,1231.9 L674.3,1230.3 L674.5,1229.6 L675.3,1227.8 L675.5,1228.0 L676.8,1225.1 L677.1,1224.2 L677.6,1223.4 L678.3,1221.6 L678.4,1220.1 L679.3,1219.3 L679.7,1217.5 L680.4,1216.1 L680.7,1214.6 L681.5,1212.5 L681.9,1211.1 L682.6,1209.2 L683.3,1206.9 L684.1,1205.7 L684.4,1203.7 L685.1,1201.2 L685.9,1199.5 L686.1,1198.5 L687.0,1196.7 L687.7,1195.2 L688.2,1193.6 L688.6,1191.7 L688.9,1190.5 L689.5,1188.8 L690.4,1187.4 L691.0,1184.9 L691.8,1183.7 L692.4,1181.7 L693.1,1179.8 L693.6,1178.6 L694.4,1177.4 L695.0,1175.8 L695.6,1173.8 L696.2,1173.3 L696.7,1171.2 L697.2,1169.6 L697.7,1169.1 L698.5,1167.4 L699.6,1165.3 L700.3,1164.1 L701.2,1162.7 L702.2,1161.6 L702.6,1160.1 L703.6,1158.7 L704.6,1156.8 L705.6,1155.7 L706.8,1154.6 L707.5,1153.5 L708.5,1151.9 L709.2,1150.8 L710.7,1150.1 L712.0,1148.4 L713.4,1147.3 L714.6,1146.9 L716.1,1146.4 L717.7,1145.1 L719.2,1144.0 L720.7,1144.1 L721.8,1143.5 L723.6,1142.2 L725.0,1142.1 L726.9,1141.5 L728.5,1141.3 L730.0,1140.7 L731.7,1141.1 L733.3,1141.0 L734.6,1140.6 L736.6,1140.5 L737.8,1140.7 L739.8,1140.4 L741.3,1140.4 L742.6,1141.0 L744.4,1141.8 L745.9,1141.5 L747.8,1142.2 L749.2,1142.6 L750.8,1142.9 L752.4,1143.8 L753.7,1144.2 L755.0,1145.1 L756.4,1145.8 L758.2,1146.1 L759.5,1147.7 L761.0,1148.3 L762.4,1148.6 L763.8,1149.4 L765.4,1150.4 L766.7,1151.4 L768.5,1152.2 L770.2,1152.9 L771.6,1152.8 L773.2,1153.4 L774.9,1154.8 L776.5,1155.2 L778.1,1156.2 L779.8,1156.6 L780.9,1157.1 L782.3,1158.4 L784.1,1158.3 L785.2,1159.6 L787.0,1160.6 L788.5,1161.2 L789.7,1161.7 L791.5,1162.2 L792.4,1163.3 L794.1,1164.3 L795.9,1164.4 L797.2,1165.5 L798.6,1165.6 L800.5,1166.7 L801.9,1166.9 L803.6,1167.6 L805.1,1168.6 L806.5,1169.3 L808.1,1169.9 L809.6,1170.3 L811.4,1170.3 L813.0,1171.1 L814.4,1171.0 L816.1,1171.5 L817.9,1171.8 L819.8,1172.6 L821.3,1173.1 L823.2,1172.5 L824.8,1172.6 L826.0,1172.8 L827.9,1172.9 L829.5,1173.2 L831.5,1173.8 L833.2,1173.2 L834.6,1173.8 L836.3,1173.9 L837.9,1173.9 L839.4,1174.3 L841.4,1174.7 L843.1,1175.0 L844.7,1175.0 L846.3,1175.5 L848.0,1176.5 L849.2,1176.2 L851.3,1177.0 L852.7,1177.5 L854.2,1177.6 L856.0,1177.4 L857.6,1178.5 L859.2,1178.2 L861.0,1178.4 L862.3,1178.5 L864.3,1178.7 L865.6,1178.6 L867.6,1179.0 L869.0,1179.6 L870.9,1180.0 L872.4,1180.2 L874.2,1179.6 L875.4,1180.5 L877.3,1180.8 L878.9,1181.2 L880.4,1181.2 L882.3,1180.9 L883.9,1181.4 L885.7,1182.1 L887.3,1182.1 L888.7,1182.8 L890.5,1183.2 L892.0,1183.3 L893.8,1183.4 L895.1,1183.7 L897.1,1184.1 L898.8,1184.5 L900.7,1184.4 L902.4,1185.0 L903.9,1185.1 L905.8,1185.4 L907.0,1186.5 L908.6,1186.1 L909.9,1186.8 L911.9,1187.6 L913.9,1187.5 L914.9,1188.1 L916.7,1188.7 L917.8,1189.2 L919.5,1190.4 L920.9,1191.3 L921.9,1192.6 L923.4,1193.3 L925.0,1194.2 L926.0,1195.1 L927.5,1196.6 L928.9,1197.3 L930.3,1198.7 L931.6,1199.0 L932.7,1200.5 L934.5,1201.7 L935.4,1202.9 L936.7,1203.7 L937.9,1204.4 L939.4,1205.3 L941.0,1206.9 L942.3,1207.2 L943.5,1207.8 L945.2,1209.2 L946.2,1210.1 L947.7,1210.8 L949.1,1211.3 L950.5,1212.3 L952.2,1212.4 L953.8,1213.1 L955.0,1214.0 L956.9,1214.9 L958.3,1215.6 L959.7,1216.0 L960.9,1216.9 L962.3,1217.4 L964.1,1218.2 L965.7,1218.8 L967.4,1219.3 L968.7,1219.4 L970.0,1219.9 L971.6,1221.1 L973.4,1221.2 L974.8,1221.4 L976.5,1222.2 L978.3,1223.1 L980.3,1224.1 L982.2,1224.6 L984.3,1225.3 L985.7,1224.9 L987.9,1225.4 L989.5,1226.5 L991.0,1226.3 L991.9,1227.5 L993.0,1227.3" fill="none" stroke="#ffbf0c" stroke-width="4.8" stroke-linejoin="round"/>
<path d="M654.5,1334.0 C655.0,1333.4 655.7,1336.1 657.4,1330.2 C659.1,1324.3 661.9,1310.4 664.8,1298.6 C667.7,1286.8 671.8,1271.5 674.7,1259.2 C677.6,1246.9 679.6,1236.7 682.4,1225.0 C685.2,1213.3 688.4,1199.8 691.4,1189.0 C694.4,1178.2 697.4,1169.2 700.4,1160.2 C703.4,1151.2 706.1,1144.3 709.4,1135.0 C712.7,1125.7 716.9,1111.9 720.2,1104.4 C723.5,1096.9 725.9,1094.8 729.2,1090.0 C732.5,1085.2 736.4,1079.5 740.0,1075.6 C743.6,1071.7 746.6,1069.3 750.8,1066.6 C755.0,1063.9 760.4,1061.0 765.2,1059.4 C770.0,1057.8 774.8,1057.2 779.6,1057.2 C784.4,1057.2 789.2,1058.3 794.0,1059.4 C798.8,1060.5 804.1,1062.6 808.4,1063.9 C812.7,1065.2 815.1,1064.9 820.0,1067.1 C824.9,1069.3 832.0,1073.8 838.0,1077.0 C844.0,1080.2 850.0,1082.7 856.0,1086.0 C862.0,1089.3 868.0,1092.9 874.0,1096.8 C880.0,1100.7 886.0,1105.2 892.0,1109.4 C898.0,1113.6 904.0,1117.5 910.0,1122.0 C916.0,1126.5 922.0,1131.6 928.0,1136.4 C934.0,1141.2 940.0,1146.0 946.0,1150.8 C952.0,1155.6 958.0,1160.4 964.0,1165.2 C970.0,1170.0 977.2,1175.1 982.0,1179.6 C986.8,1184.1 991.2,1190.1 993.0,1192.2" fill="none" stroke="#1278dc" stroke-width="4.8" stroke-linejoin="round" stroke-dasharray="16.8 7"/>
<path d="M654.5,1334.0 C655.2,1329.8 656.7,1321.0 658.9,1308.5 C661.1,1296.0 664.8,1273.1 667.8,1259.2 C670.8,1245.3 672.5,1239.7 677.0,1225.0 C681.5,1210.3 690.5,1183.9 695.0,1171.0 C699.5,1158.1 700.7,1155.1 704.0,1147.6 C707.3,1140.1 711.2,1132.0 714.8,1126.0 C718.4,1120.0 721.4,1115.8 725.6,1111.6 C729.8,1107.4 735.2,1103.2 740.0,1100.8 C744.8,1098.4 750.2,1098.0 754.4,1097.2 C758.6,1096.4 760.1,1095.8 765.2,1095.9 C770.3,1096.1 778.7,1096.8 785.0,1098.1 C791.3,1099.4 797.2,1101.3 803.0,1103.5 C808.8,1105.7 814.2,1108.1 820.0,1111.2 C825.8,1114.3 832.0,1118.7 838.0,1122.0 C844.0,1125.3 850.0,1127.8 856.0,1131.0 C862.0,1134.2 868.0,1137.8 874.0,1140.9 C880.0,1144.1 886.0,1146.8 892.0,1149.9 C898.0,1153.1 904.0,1156.5 910.0,1159.8 C916.0,1163.1 922.0,1166.4 928.0,1169.7 C934.0,1173.0 940.0,1176.4 946.0,1179.6 C952.0,1182.8 958.0,1185.6 964.0,1188.6 C970.0,1191.6 977.2,1195.0 982.0,1197.6 C986.8,1200.1 991.2,1202.9 993.0,1203.9" fill="none" stroke="#00aa00" stroke-width="4.8" stroke-linejoin="round" stroke-dasharray="16.8 7"/>
<path d="M654.5,1334.0 C655.2,1330.0 656.8,1322.0 659.0,1310.0 C661.2,1298.0 664.7,1276.2 668.0,1262.0 C671.3,1247.8 674.9,1238.4 678.8,1225.0 C682.7,1211.6 687.5,1192.9 691.4,1181.8 C695.3,1170.7 698.3,1164.4 702.2,1158.4 C706.1,1152.4 710.6,1149.4 714.8,1145.8 C719.0,1142.2 722.6,1139.0 727.4,1136.8 C732.2,1134.5 737.9,1132.9 743.6,1132.3 C749.3,1131.7 755.6,1132.2 761.6,1133.2 C767.6,1134.2 773.6,1136.5 779.6,1138.6 C785.6,1140.7 791.6,1143.4 797.6,1145.8 C803.6,1148.2 811.9,1151.4 815.6,1153.0 C819.3,1154.6 816.3,1153.6 820.0,1155.3 C823.7,1157.0 832.0,1160.2 838.0,1163.4 C844.0,1166.6 850.0,1170.9 856.0,1174.2 C862.0,1177.5 868.0,1180.2 874.0,1183.2 C880.0,1186.2 886.0,1189.4 892.0,1192.2 C898.0,1195.0 904.0,1197.9 910.0,1200.3 C916.0,1202.7 922.0,1204.6 928.0,1206.6 C934.0,1208.5 940.0,1210.0 946.0,1212.0 C952.0,1214.0 958.0,1216.3 964.0,1218.3 C970.0,1220.2 977.2,1222.2 982.0,1223.7 C986.8,1225.2 991.2,1226.7 993.0,1227.3" fill="none" stroke="#ffbf0c" stroke-width="4.8" stroke-linejoin="round" stroke-dasharray="16.8 7"/>
<rect x="654.2" y="1044" width="342.0" height="290.5" fill="none" stroke="#000" stroke-width="6"/>
<line x1="739.70" y1="1044" x2="739.70" y2="1058" stroke="#000" stroke-width="6"/>
<line x1="739.70" y1="1334.5" x2="739.70" y2="1320.5" stroke="#000" stroke-width="6"/>
<line x1="654.2" y1="1261.88" x2="664.7" y2="1261.88" stroke="#000" stroke-width="6"/>
<line x1="996.2" y1="1261.88" x2="985.7" y2="1261.88" stroke="#000" stroke-width="6"/>
<line x1="825.20" y1="1044" x2="825.20" y2="1058" stroke="#000" stroke-width="6"/>
<line x1="825.20" y1="1334.5" x2="825.20" y2="1320.5" stroke="#000" stroke-width="6"/>
<line x1="654.2" y1="1189.25" x2="664.7" y2="1189.25" stroke="#000" stroke-width="6"/>
<line x1="996.2" y1="1189.25" x2="985.7" y2="1189.25" stroke="#000" stroke-width="6"/>
<line x1="910.70" y1="1044" x2="910.70" y2="1058" stroke="#000" stroke-width="6"/>
<line x1="910.70" y1="1334.5" x2="910.70" y2="1320.5" stroke="#000" stroke-width="6"/>
<line x1="654.2" y1="1116.62" x2="664.7" y2="1116.62" stroke="#000" stroke-width="6"/>
<line x1="996.2" y1="1116.62" x2="985.7" y2="1116.62" stroke="#000" stroke-width="6"/>
<text transform="translate(629.20,1346.10)" font-family="Liberation Serif" font-size="32">0</text>
<text transform="translate(613.20,1200.85)" font-family="Liberation Serif" font-size="32">10</text>
<text transform="translate(613.20,1055.60)" font-family="Liberation Serif" font-size="32">20</text>
<text transform="translate(646.20,1374.00)" font-family="Liberation Serif" font-size="32">0</text>
<text transform="translate(805.57,1374.00) scale(0.9342,1.0000)" font-family="Liberation Serif" font-size="32">0.5</text>
<text transform="translate(989.00,1374.00)" font-family="Liberation Serif" font-size="32">1</text>
<text transform="translate(802.33,1411.00) scale(1.1667,1.0000)" font-family="Liberation Serif" font-size="32" font-style="italic">t</text>
<text transform="translate(828.11,1411.00) scale(0.8889,1.1500)" font-family="Liberation Serif" font-size="32">(</text>
<text transform="translate(837.95,1411.00) scale(1.0455,1.0000)" font-family="Liberation Serif" font-size="32">s</text>
<text transform="translate(852.61,1411.00) scale(0.8889,1.1500)" font-family="Liberation Serif" font-size="32">)</text>
<text transform="translate(600.70,1290.07) rotate(-90) scale(1.0667,1.0000)" font-family="Liberation Serif" font-size="32" font-style="italic">d</text>
<text transform="translate(605.50,1272.50) rotate(-90) scale(1.0818,1.0800)" font-family="Liberation Serif" font-size="22" font-style="italic">ϕ</text>
<text transform="translate(608.80,1256.90) rotate(-90) scale(1.0667,1.0000)" font-family="Liberation Serif" font-size="19.5">0</text>
<text transform="translate(600.70,1241.31) rotate(-90) scale(0.9111,1.1500)" font-family="Liberation Serif" font-size="32">(</text>
<text transform="translate(600.70,1231.58) rotate(-90) scale(1.1778,1.0000)" font-family="Liberation Serif" font-size="32" font-style="italic">t</text>
<text transform="translate(600.70,1217.41) rotate(-90) scale(0.8111,1.1500)" font-family="Liberation Serif" font-size="32">)</text>
<text transform="translate(600.70,1192.81) rotate(-90) scale(0.9111,1.1500)" font-family="Liberation Serif" font-size="32">(</text>
<text transform="translate(600.70,1181.80) rotate(-90) scale(1.0800,1.0000)" font-family="Liberation Serif" font-size="32">mm</text>
<text transform="translate(600.70,1116.75) rotate(-90) scale(0.9545,1.0000)" font-family="Liberation Serif" font-size="32">s</text>
<text transform="translate(588.00,1103.13) rotate(-90) scale(1.4273,1.0000)" font-family="Liberation Serif" font-size="22">−</text>
<text transform="translate(588.00,1083.62) rotate(-90) scale(1.0625,1.0000)" font-family="Liberation Serif" font-size="22">1</text>
<text transform="translate(600.70,1068.89) rotate(-90) scale(0.8889,1.1500)" font-family="Liberation Serif" font-size="32">)</text>
</svg></body></html>
